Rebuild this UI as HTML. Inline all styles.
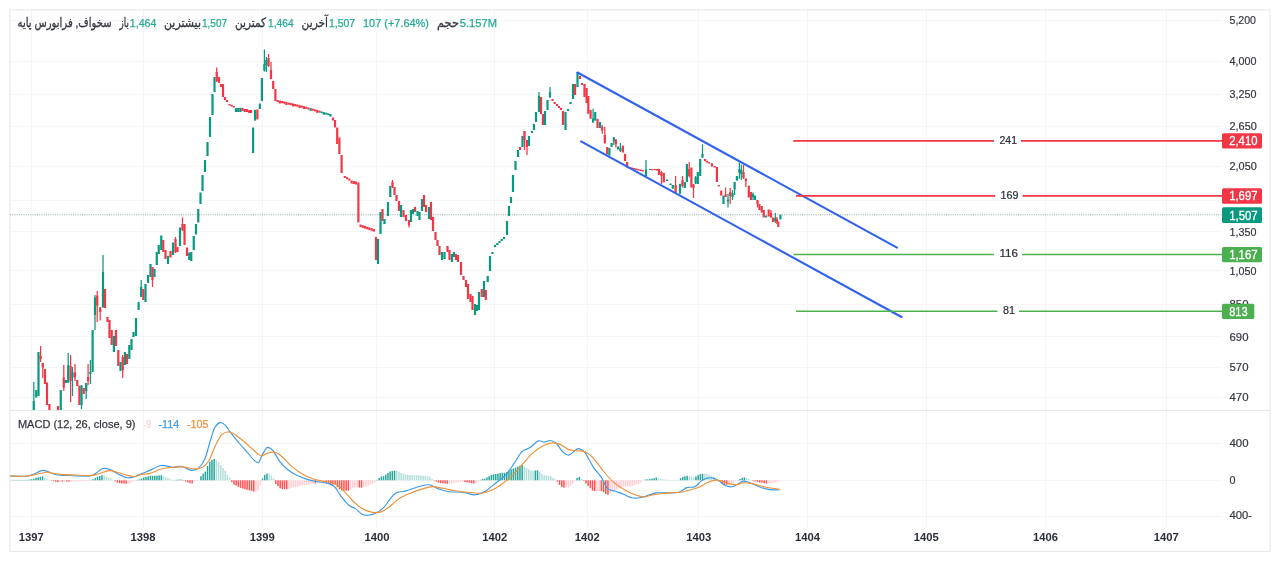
<!DOCTYPE html>
<html lang="fa">
<head>
<meta charset="utf-8">
<title>سخواف - نمودار</title>
<style>
html,body{margin:0;padding:0;background:#fff;}
body{width:1280px;height:561px;overflow:hidden;font-family:"Liberation Sans","DejaVu Sans",sans-serif;}
svg{display:block;}
</style>
</head>
<body>
<svg width="1280" height="561" viewBox="0 0 1280 561">
<rect x="0" y="0" width="1280" height="561" fill="#fff"/>
<line x1="31.5" y1="10" x2="31.5" y2="527" stroke="#f5f5f7" stroke-width="1"/>
<line x1="143.5" y1="10" x2="143.5" y2="527" stroke="#f5f5f7" stroke-width="1"/>
<line x1="262.5" y1="10" x2="262.5" y2="527" stroke="#f5f5f7" stroke-width="1"/>
<line x1="376.5" y1="10" x2="376.5" y2="527" stroke="#f5f5f7" stroke-width="1"/>
<line x1="494.5" y1="10" x2="494.5" y2="527" stroke="#f5f5f7" stroke-width="1"/>
<line x1="587.5" y1="10" x2="587.5" y2="527" stroke="#f5f5f7" stroke-width="1"/>
<line x1="698.5" y1="10" x2="698.5" y2="527" stroke="#f5f5f7" stroke-width="1"/>
<line x1="807.5" y1="10" x2="807.5" y2="527" stroke="#f5f5f7" stroke-width="1"/>
<line x1="926.5" y1="10" x2="926.5" y2="527" stroke="#f5f5f7" stroke-width="1"/>
<line x1="1045.5" y1="10" x2="1045.5" y2="527" stroke="#f5f5f7" stroke-width="1"/>
<line x1="1166.5" y1="10" x2="1166.5" y2="527" stroke="#f5f5f7" stroke-width="1"/>
<line x1="10" y1="20.5" x2="1222" y2="20.5" stroke="#f5f5f7" stroke-width="1"/>
<line x1="10" y1="61.5" x2="1222" y2="61.5" stroke="#f5f5f7" stroke-width="1"/>
<line x1="10" y1="94.5" x2="1222" y2="94.5" stroke="#f5f5f7" stroke-width="1"/>
<line x1="10" y1="126.5" x2="1222" y2="126.5" stroke="#f5f5f7" stroke-width="1"/>
<line x1="10" y1="166.5" x2="1222" y2="166.5" stroke="#f5f5f7" stroke-width="1"/>
<line x1="10" y1="200.5" x2="1222" y2="200.5" stroke="#f5f5f7" stroke-width="1"/>
<line x1="10" y1="231.5" x2="1222" y2="231.5" stroke="#f5f5f7" stroke-width="1"/>
<line x1="10" y1="270.5" x2="1222" y2="270.5" stroke="#f5f5f7" stroke-width="1"/>
<line x1="10" y1="304.5" x2="1222" y2="304.5" stroke="#f5f5f7" stroke-width="1"/>
<line x1="10" y1="336.5" x2="1222" y2="336.5" stroke="#f5f5f7" stroke-width="1"/>
<line x1="10" y1="367.5" x2="1222" y2="367.5" stroke="#f5f5f7" stroke-width="1"/>
<line x1="10" y1="397.5" x2="1222" y2="397.5" stroke="#f5f5f7" stroke-width="1"/>
<line x1="10" y1="443.5" x2="1222" y2="443.5" stroke="#f5f5f7" stroke-width="1"/>
<line x1="10" y1="480.5" x2="1222" y2="480.5" stroke="#f5f5f7" stroke-width="1"/>
<line x1="10" y1="516.5" x2="1222" y2="516.5" stroke="#f5f5f7" stroke-width="1"/>
<line x1="10" y1="410.3" x2="1270" y2="410.3" stroke="#e9e9ec" stroke-width="1.2"/>
<rect x="9.8" y="9.8" width="1260.2" height="541.6" fill="none" stroke="#e9e9eb" stroke-width="1.1"/>
<line x1="10" y1="214.7" x2="1222" y2="214.7" stroke="#8fa9a4" stroke-width="1.1" stroke-dasharray="1 1.25"/>
<clipPath id="cm"><rect x="10" y="10" width="1212" height="400"/></clipPath>
<g clip-path="url(#cm)" shape-rendering="auto">
<line x1="33.8" y1="382.0" x2="33.8" y2="410.0" stroke="#089981" stroke-width="1.25"/>
<rect x="32.65" y="401.0" width="2.2" height="9.0" fill="#089981"/>
<rect x="35.15" y="390.0" width="2.2" height="7.5" fill="#089981"/>
<rect x="37.40" y="352.0" width="2.2" height="44.0" fill="#089981"/>
<line x1="40.6" y1="346.0" x2="40.6" y2="362.0" stroke="#f23645" stroke-width="1.25"/>
<rect x="39.50" y="356.0" width="2.2" height="3.0" fill="#f23645"/>
<line x1="42.8" y1="363.0" x2="42.8" y2="378.0" stroke="#f23645" stroke-width="1.25"/>
<rect x="41.65" y="363.0" width="2.2" height="4.5" fill="#f23645"/>
<rect x="43.90" y="369.0" width="2.2" height="15.0" fill="#f23645"/>
<rect x="45.90" y="382.5" width="2.2" height="22.5" fill="#f23645"/>
<rect x="48.30" y="404.0" width="2.2" height="10.0" fill="#f23645"/>
<rect x="50.50" y="410.0" width="2.2" height="10.0" fill="#f23645"/>
<rect x="52.70" y="412.0" width="2.2" height="8.0" fill="#f23645"/>
<rect x="54.90" y="410.0" width="2.2" height="10.0" fill="#089981"/>
<rect x="56.90" y="406.0" width="2.2" height="6.0" fill="#f23645"/>
<rect x="59.65" y="390.0" width="2.2" height="22.0" fill="#089981"/>
<line x1="63.8" y1="365.0" x2="63.8" y2="391.0" stroke="#f23645" stroke-width="1.25"/>
<rect x="62.65" y="377.5" width="2.2" height="10.0" fill="#f23645"/>
<rect x="64.90" y="380.0" width="2.2" height="3.0" fill="#089981"/>
<line x1="68.2" y1="353.0" x2="68.2" y2="383.0" stroke="#089981" stroke-width="1.25"/>
<rect x="67.15" y="365.0" width="2.2" height="17.5" fill="#089981"/>
<line x1="70.6" y1="355.0" x2="70.6" y2="402.0" stroke="#f23645" stroke-width="1.25"/>
<rect x="69.50" y="366.0" width="2.2" height="15.0" fill="#f23645"/>
<line x1="72.5" y1="367.0" x2="72.5" y2="396.0" stroke="#089981" stroke-width="1.25"/>
<rect x="71.40" y="372.5" width="2.2" height="5.0" fill="#089981"/>
<line x1="75.0" y1="364.0" x2="75.0" y2="381.0" stroke="#f23645" stroke-width="1.25"/>
<rect x="73.90" y="372.5" width="2.2" height="5.0" fill="#f23645"/>
<rect x="76.15" y="380.0" width="2.2" height="6.0" fill="#f23645"/>
<rect x="78.30" y="385.6" width="2.2" height="19.4" fill="#f23645"/>
<line x1="81.5" y1="385.0" x2="81.5" y2="409.0" stroke="#089981" stroke-width="1.25"/>
<rect x="80.40" y="385.6" width="2.2" height="19.4" fill="#089981"/>
<rect x="82.65" y="388.0" width="2.2" height="6.0" fill="#f23645"/>
<line x1="86.2" y1="383.0" x2="86.2" y2="399.0" stroke="#089981" stroke-width="1.25"/>
<rect x="85.15" y="383.0" width="2.2" height="8.0" fill="#089981"/>
<line x1="88.1" y1="364.0" x2="88.1" y2="385.0" stroke="#f23645" stroke-width="1.25"/>
<rect x="87.00" y="377.0" width="2.2" height="4.0" fill="#f23645"/>
<line x1="90.4" y1="360.0" x2="90.4" y2="384.0" stroke="#089981" stroke-width="1.25"/>
<rect x="89.30" y="372.0" width="2.2" height="2.0" fill="#089981"/>
<rect x="91.50" y="330.0" width="2.2" height="42.0" fill="#089981"/>
<line x1="103.0" y1="255.0" x2="103.0" y2="308.0" stroke="#089981" stroke-width="1.25"/>
<rect x="101.90" y="272.0" width="2.2" height="35.0" fill="#089981"/>
<rect x="103.90" y="289.0" width="2.2" height="19.0" fill="#f23645"/>
<rect x="106.40" y="317.0" width="2.2" height="5.0" fill="#f23645"/>
<rect x="108.40" y="320.0" width="2.2" height="18.0" fill="#f23645"/>
<rect x="110.60" y="330.0" width="2.2" height="15.0" fill="#f23645"/>
<rect x="112.80" y="336.0" width="2.2" height="16.0" fill="#089981"/>
<rect x="114.90" y="330.0" width="2.2" height="16.0" fill="#f23645"/>
<rect x="117.20" y="350.0" width="2.2" height="16.0" fill="#f23645"/>
<rect x="119.40" y="362.0" width="2.2" height="9.0" fill="#089981"/>
<line x1="122.7" y1="355.0" x2="122.7" y2="378.0" stroke="#f23645" stroke-width="1.25"/>
<rect x="121.60" y="357.0" width="2.2" height="13.0" fill="#f23645"/>
<rect x="123.90" y="352.0" width="2.2" height="13.0" fill="#089981"/>
<rect x="125.90" y="354.0" width="2.2" height="10.0" fill="#f23645"/>
<rect x="128.20" y="345.0" width="2.2" height="14.0" fill="#089981"/>
<rect x="130.40" y="339.0" width="2.2" height="11.0" fill="#089981"/>
<rect x="132.40" y="332.0" width="2.2" height="5.0" fill="#089981"/>
<rect x="134.90" y="318.0" width="2.2" height="18.0" fill="#089981"/>
<rect x="137.50" y="302.0" width="2.2" height="8.0" fill="#089981"/>
<line x1="141.2" y1="280.0" x2="141.2" y2="297.0" stroke="#089981" stroke-width="1.25"/>
<rect x="140.10" y="287.0" width="2.2" height="10.0" fill="#089981"/>
<rect x="142.20" y="289.0" width="2.2" height="11.0" fill="#f23645"/>
<rect x="144.40" y="284.0" width="2.2" height="18.0" fill="#089981"/>
<rect x="146.90" y="275.0" width="2.2" height="8.0" fill="#089981"/>
<rect x="149.40" y="264.0" width="2.2" height="13.0" fill="#089981"/>
<line x1="152.5" y1="267.0" x2="152.5" y2="287.0" stroke="#f23645" stroke-width="1.25"/>
<rect x="151.40" y="267.0" width="2.2" height="13.0" fill="#f23645"/>
<rect x="153.40" y="269.0" width="2.2" height="8.0" fill="#089981"/>
<rect x="155.65" y="252.0" width="2.2" height="13.0" fill="#089981"/>
<rect x="157.65" y="245.0" width="2.2" height="9.0" fill="#089981"/>
<rect x="160.15" y="235.5" width="2.2" height="14.5" fill="#089981"/>
<rect x="162.15" y="240.0" width="2.2" height="12.0" fill="#f23645"/>
<rect x="164.40" y="250.0" width="2.2" height="9.0" fill="#f23645"/>
<rect x="166.90" y="256.0" width="2.2" height="8.0" fill="#089981"/>
<rect x="169.40" y="251.0" width="2.2" height="6.5" fill="#f23645"/>
<rect x="171.90" y="242.5" width="2.2" height="12.5" fill="#089981"/>
<line x1="175.5" y1="237.0" x2="175.5" y2="253.0" stroke="#f23645" stroke-width="1.25"/>
<rect x="174.40" y="239.0" width="2.2" height="13.5" fill="#f23645"/>
<rect x="176.40" y="247.0" width="2.2" height="5.0" fill="#f23645"/>
<rect x="178.90" y="227.5" width="2.2" height="18.5" fill="#089981"/>
<line x1="182.5" y1="217.5" x2="182.5" y2="231.0" stroke="#f23645" stroke-width="1.25"/>
<rect x="181.40" y="224.0" width="2.2" height="6.0" fill="#f23645"/>
<rect x="183.40" y="224.0" width="2.2" height="21.0" fill="#f23645"/>
<rect x="185.90" y="247.5" width="2.2" height="8.5" fill="#f23645"/>
<rect x="188.15" y="252.5" width="2.2" height="7.5" fill="#089981"/>
<rect x="190.15" y="252.0" width="2.2" height="9.0" fill="#089981"/>
<rect x="192.65" y="236.0" width="2.2" height="14.0" fill="#089981"/>
<rect x="194.90" y="224.0" width="2.2" height="10.5" fill="#089981"/>
<rect x="197.15" y="209.0" width="2.2" height="13.5" fill="#089981"/>
<rect x="199.40" y="192.5" width="2.2" height="11.5" fill="#089981"/>
<rect x="201.40" y="175.0" width="2.2" height="16.0" fill="#089981"/>
<rect x="203.90" y="160.0" width="2.2" height="12.0" fill="#089981"/>
<rect x="206.40" y="142.0" width="2.2" height="14.0" fill="#089981"/>
<rect x="208.90" y="117.0" width="2.2" height="20.0" fill="#089981"/>
<rect x="211.40" y="94.0" width="2.2" height="21.0" fill="#089981"/>
<rect x="213.40" y="77.0" width="2.2" height="15.0" fill="#089981"/>
<line x1="216.7" y1="67.5" x2="216.7" y2="82.0" stroke="#f23645" stroke-width="1.25"/>
<rect x="215.60" y="72.0" width="2.2" height="9.0" fill="#f23645"/>
<rect x="217.90" y="77.0" width="2.2" height="6.0" fill="#f23645"/>
<rect x="219.90" y="84.0" width="2.2" height="3.0" fill="#f23645"/>
<rect x="221.90" y="84.0" width="2.2" height="13.0" fill="#f23645"/>
<rect x="223.90" y="97.0" width="2.2" height="3.0" fill="#f23645"/>
<rect x="225.90" y="100.0" width="2.2" height="2.0" fill="#f23645"/>
<rect x="228.40" y="104.0" width="2.2" height="1.5" fill="#f23645"/>
<rect x="230.60" y="105.0" width="2.2" height="1.5" fill="#f23645"/>
<rect x="232.70" y="106.0" width="2.2" height="1.5" fill="#f23645"/>
<rect x="234.90" y="108.0" width="2.2" height="4.0" fill="#089981"/>
<rect x="237.10" y="108.0" width="2.2" height="4.0" fill="#089981"/>
<rect x="239.30" y="108.0" width="2.2" height="4.0" fill="#089981"/>
<rect x="241.50" y="108.0" width="2.2" height="3.0" fill="#f23645"/>
<rect x="243.70" y="109.0" width="2.2" height="3.0" fill="#f23645"/>
<rect x="245.90" y="109.0" width="2.2" height="3.0" fill="#f23645"/>
<rect x="248.10" y="110.0" width="2.2" height="3.0" fill="#f23645"/>
<rect x="249.90" y="110.0" width="2.2" height="3.0" fill="#f23645"/>
<rect x="374.90" y="237.0" width="2.2" height="23.0" fill="#f23645"/>
<rect x="376.90" y="239.0" width="2.2" height="25.0" fill="#089981"/>
<rect x="379.40" y="212.0" width="2.2" height="22.0" fill="#089981"/>
<rect x="381.40" y="209.0" width="2.2" height="12.0" fill="#f23645"/>
<rect x="383.40" y="219.0" width="2.2" height="5.0" fill="#089981"/>
<rect x="386.90" y="202.0" width="2.2" height="14.0" fill="#089981"/>
<rect x="389.20" y="186.0" width="2.2" height="11.0" fill="#089981"/>
<line x1="392.5" y1="180.0" x2="392.5" y2="188.0" stroke="#f23645" stroke-width="1.25"/>
<rect x="391.40" y="182.0" width="2.2" height="5.0" fill="#f23645"/>
<rect x="393.40" y="187.0" width="2.2" height="8.0" fill="#f23645"/>
<rect x="395.40" y="195.0" width="2.2" height="6.0" fill="#f23645"/>
<rect x="397.90" y="201.0" width="2.2" height="10.0" fill="#f23645"/>
<rect x="399.90" y="205.0" width="2.2" height="12.0" fill="#089981"/>
<rect x="402.40" y="210.0" width="2.2" height="7.0" fill="#f23645"/>
<rect x="404.90" y="215.0" width="2.2" height="6.0" fill="#f23645"/>
<line x1="409.0" y1="220.0" x2="409.0" y2="227.5" stroke="#f23645" stroke-width="1.25"/>
<rect x="407.90" y="220.0" width="2.2" height="5.0" fill="#f23645"/>
<rect x="409.90" y="210.0" width="2.2" height="12.0" fill="#089981"/>
<rect x="411.90" y="209.0" width="2.2" height="5.0" fill="#089981"/>
<rect x="413.90" y="207.0" width="2.2" height="5.0" fill="#f23645"/>
<rect x="416.40" y="211.0" width="2.2" height="5.0" fill="#089981"/>
<rect x="418.40" y="212.0" width="2.2" height="8.0" fill="#089981"/>
<rect x="420.90" y="199.0" width="2.2" height="12.0" fill="#089981"/>
<rect x="422.90" y="195.0" width="2.2" height="12.0" fill="#f23645"/>
<rect x="424.90" y="205.0" width="2.2" height="7.0" fill="#f23645"/>
<rect x="427.90" y="207.0" width="2.2" height="12.0" fill="#089981"/>
<rect x="429.90" y="202.0" width="2.2" height="18.0" fill="#f23645"/>
<rect x="431.90" y="217.0" width="2.2" height="14.0" fill="#f23645"/>
<rect x="434.40" y="232.0" width="2.2" height="8.0" fill="#f23645"/>
<rect x="436.40" y="240.0" width="2.2" height="6.0" fill="#f23645"/>
<rect x="438.40" y="246.0" width="2.2" height="9.0" fill="#f23645"/>
<rect x="440.90" y="252.0" width="2.2" height="8.0" fill="#089981"/>
<rect x="443.40" y="252.0" width="2.2" height="7.0" fill="#089981"/>
<rect x="446.40" y="246.0" width="2.2" height="6.0" fill="#f23645"/>
<rect x="448.40" y="250.0" width="2.2" height="10.0" fill="#f23645"/>
<rect x="450.90" y="254.0" width="2.2" height="8.0" fill="#089981"/>
<rect x="452.90" y="252.0" width="2.2" height="5.0" fill="#089981"/>
<rect x="454.90" y="254.0" width="2.2" height="6.0" fill="#f23645"/>
<rect x="456.90" y="255.0" width="2.2" height="7.0" fill="#f23645"/>
<rect x="459.90" y="262.0" width="2.2" height="13.0" fill="#f23645"/>
<rect x="462.40" y="276.0" width="2.2" height="4.0" fill="#f23645"/>
<rect x="464.90" y="280.0" width="2.2" height="7.0" fill="#f23645"/>
<rect x="466.90" y="284.0" width="2.2" height="15.0" fill="#f23645"/>
<rect x="469.40" y="294.0" width="2.2" height="8.0" fill="#f23645"/>
<rect x="471.40" y="296.0" width="2.2" height="14.0" fill="#f23645"/>
<rect x="473.90" y="304.0" width="2.2" height="11.0" fill="#089981"/>
<rect x="475.90" y="305.0" width="2.2" height="6.0" fill="#089981"/>
<rect x="477.90" y="292.0" width="2.2" height="18.0" fill="#089981"/>
<rect x="480.60" y="289.0" width="2.2" height="8.0" fill="#f23645"/>
<rect x="482.90" y="281.0" width="2.2" height="16.0" fill="#089981"/>
<rect x="484.70" y="290.0" width="2.2" height="10.0" fill="#f23645"/>
<rect x="486.60" y="276.0" width="2.2" height="6.0" fill="#089981"/>
<rect x="488.90" y="256.0" width="2.2" height="15.0" fill="#089981"/>
<rect x="491.40" y="252.0" width="2.2" height="2.0" fill="#089981"/>
<rect x="493.90" y="245.0" width="2.2" height="2.0" fill="#089981"/>
<rect x="496.20" y="243.0" width="2.2" height="2.0" fill="#089981"/>
<rect x="498.40" y="241.0" width="2.2" height="2.0" fill="#089981"/>
<rect x="500.60" y="239.0" width="2.2" height="2.0" fill="#089981"/>
<rect x="502.90" y="237.0" width="2.2" height="2.0" fill="#089981"/>
<rect x="505.90" y="221.0" width="2.2" height="14.0" fill="#089981"/>
<rect x="507.90" y="206.0" width="2.2" height="10.0" fill="#089981"/>
<rect x="509.90" y="197.0" width="2.2" height="6.0" fill="#089981"/>
<rect x="511.90" y="175.0" width="2.2" height="17.0" fill="#089981"/>
<rect x="514.40" y="161.0" width="2.2" height="9.0" fill="#089981"/>
<rect x="516.90" y="150.0" width="2.2" height="7.0" fill="#089981"/>
<rect x="518.90" y="147.0" width="2.2" height="3.0" fill="#f23645"/>
<rect x="521.40" y="136.0" width="2.2" height="11.0" fill="#089981"/>
<line x1="524.5" y1="131.0" x2="524.5" y2="150.0" stroke="#f23645" stroke-width="1.25"/>
<rect x="523.40" y="131.0" width="2.2" height="9.0" fill="#f23645"/>
<line x1="527.0" y1="140.0" x2="527.0" y2="155.0" stroke="#f23645" stroke-width="1.25"/>
<rect x="525.90" y="140.0" width="2.2" height="7.0" fill="#f23645"/>
<rect x="527.90" y="136.0" width="2.2" height="10.0" fill="#089981"/>
<rect x="530.90" y="131.0" width="2.2" height="2.0" fill="#089981"/>
<rect x="532.90" y="124.0" width="2.2" height="6.0" fill="#089981"/>
<rect x="534.90" y="112.0" width="2.2" height="10.0" fill="#089981"/>
<line x1="539.0" y1="92.0" x2="539.0" y2="112.0" stroke="#089981" stroke-width="1.25"/>
<rect x="537.90" y="96.0" width="2.2" height="16.0" fill="#089981"/>
<rect x="539.90" y="97.0" width="2.2" height="17.0" fill="#f23645"/>
<rect x="541.90" y="114.0" width="2.2" height="11.0" fill="#f23645"/>
<rect x="543.90" y="111.0" width="2.2" height="14.0" fill="#089981"/>
<rect x="546.40" y="100.0" width="2.2" height="10.0" fill="#089981"/>
<line x1="550.0" y1="87.0" x2="550.0" y2="98.0" stroke="#089981" stroke-width="1.25"/>
<rect x="548.90" y="92.0" width="2.2" height="5.0" fill="#089981"/>
<rect x="551.40" y="99.0" width="2.2" height="2.0" fill="#f23645"/>
<rect x="553.60" y="102.0" width="2.2" height="2.0" fill="#f23645"/>
<rect x="555.90" y="104.0" width="2.2" height="2.0" fill="#f23645"/>
<rect x="557.90" y="106.0" width="2.2" height="2.0" fill="#f23645"/>
<rect x="559.90" y="108.0" width="2.2" height="2.0" fill="#f23645"/>
<rect x="561.90" y="111.0" width="2.2" height="14.0" fill="#f23645"/>
<rect x="564.40" y="112.0" width="2.2" height="18.0" fill="#089981"/>
<rect x="566.90" y="109.0" width="2.2" height="2.0" fill="#089981"/>
<rect x="569.40" y="102.0" width="2.2" height="2.0" fill="#089981"/>
<rect x="571.90" y="84.0" width="2.2" height="15.0" fill="#089981"/>
<rect x="573.90" y="84.0" width="2.2" height="11.0" fill="#f23645"/>
<rect x="576.40" y="72.0" width="2.2" height="15.0" fill="#089981"/>
<rect x="578.90" y="76.0" width="2.2" height="3.0" fill="#f23645"/>
<rect x="580.90" y="83.0" width="2.2" height="2.0" fill="#f23645"/>
<rect x="583.40" y="84.0" width="2.2" height="13.0" fill="#f23645"/>
<rect x="628.40" y="167.0" width="2.2" height="1.5" fill="#f23645"/>
<rect x="630.60" y="167.5" width="2.2" height="1.5" fill="#f23645"/>
<rect x="632.90" y="168.0" width="2.2" height="1.5" fill="#f23645"/>
<rect x="635.10" y="168.5" width="2.2" height="1.5" fill="#f23645"/>
<rect x="637.30" y="169.0" width="2.2" height="1.5" fill="#f23645"/>
<rect x="639.50" y="169.5" width="2.2" height="1.5" fill="#f23645"/>
<rect x="641.70" y="170.0" width="2.2" height="1.5" fill="#f23645"/>
<line x1="264.4" y1="49.4" x2="264.4" y2="71.5" stroke="#089981" stroke-width="1.25"/>
<rect x="263.30" y="64.0" width="2.2" height="6.6" fill="#089981"/>
<line x1="266.4" y1="57.0" x2="266.4" y2="72.0" stroke="#089981" stroke-width="1.25"/>
<rect x="265.30" y="60.0" width="2.2" height="5.0" fill="#089981"/>
<line x1="268.5" y1="54.0" x2="268.5" y2="67.0" stroke="#f23645" stroke-width="1.25"/>
<rect x="267.40" y="58.0" width="2.2" height="8.0" fill="#f23645"/>
<line x1="271.0" y1="62.0" x2="271.0" y2="79.0" stroke="#f23645" stroke-width="1.25"/>
<rect x="269.90" y="70.0" width="2.2" height="9.0" fill="#f23645"/>
<rect x="272.10" y="81.0" width="2.2" height="8.0" fill="#f23645"/>
<rect x="274.30" y="89.0" width="2.2" height="12.0" fill="#f23645"/>
<rect x="343.70" y="176.0" width="2.2" height="2.0" fill="#f23645"/>
<rect x="346.00" y="177.2" width="2.2" height="2.0" fill="#f23645"/>
<rect x="348.30" y="178.5" width="2.2" height="2.0" fill="#f23645"/>
<rect x="350.50" y="180.5" width="2.2" height="3.0" fill="#f23645"/>
<rect x="352.70" y="181.0" width="2.2" height="3.0" fill="#f23645"/>
<rect x="354.90" y="181.5" width="2.2" height="3.0" fill="#f23645"/>
<rect x="357.30" y="182.5" width="2.2" height="40.0" fill="#f23645"/>
<rect x="359.50" y="224.5" width="2.2" height="2.6" fill="#f23645"/>
<rect x="361.70" y="225.2" width="2.2" height="2.6" fill="#f23645"/>
<rect x="363.90" y="226.0" width="2.2" height="2.6" fill="#f23645"/>
<rect x="366.10" y="226.8" width="2.2" height="2.5" fill="#f23645"/>
<rect x="368.30" y="227.5" width="2.2" height="2.6" fill="#f23645"/>
<rect x="370.50" y="228.2" width="2.2" height="2.6" fill="#f23645"/>
<rect x="372.70" y="229.0" width="2.2" height="2.6" fill="#f23645"/>
<line x1="646.0" y1="160.0" x2="646.0" y2="176.5" stroke="#089981" stroke-width="1.25"/>
<rect x="644.90" y="169.5" width="2.2" height="6.5" fill="#089981"/>
<rect x="648.90" y="169.0" width="2.2" height="1.0" fill="#089981"/>
<rect x="651.20" y="169.0" width="2.2" height="1.2" fill="#f23645"/>
<rect x="653.50" y="169.0" width="2.2" height="1.2" fill="#f23645"/>
<rect x="655.90" y="169.0" width="2.2" height="1.5" fill="#f23645"/>
<rect x="657.90" y="168.8" width="2.2" height="6.2" fill="#f23645"/>
<line x1="661.5" y1="171.0" x2="661.5" y2="184.0" stroke="#f23645" stroke-width="1.25"/>
<rect x="660.40" y="172.0" width="2.2" height="4.0" fill="#f23645"/>
<rect x="662.70" y="173.0" width="2.2" height="9.5" fill="#f23645"/>
<rect x="665.90" y="179.5" width="2.2" height="1.5" fill="#089981"/>
<rect x="669.50" y="183.5" width="2.2" height="1.5" fill="#089981"/>
<rect x="671.70" y="185.0" width="2.2" height="3.8" fill="#089981"/>
<line x1="675.6" y1="176.0" x2="675.6" y2="193.0" stroke="#f23645" stroke-width="1.25"/>
<rect x="674.50" y="185.0" width="2.2" height="7.5" fill="#f23645"/>
<rect x="678.90" y="183.8" width="2.2" height="10.0" fill="#089981"/>
<line x1="682.5" y1="176.0" x2="682.5" y2="187.5" stroke="#f23645" stroke-width="1.25"/>
<rect x="681.40" y="180.0" width="2.2" height="6.0" fill="#f23645"/>
<rect x="683.70" y="182.0" width="2.2" height="6.0" fill="#089981"/>
<rect x="685.80" y="164.0" width="2.2" height="18.0" fill="#089981"/>
<line x1="689.2" y1="162.0" x2="689.2" y2="177.5" stroke="#f23645" stroke-width="1.25"/>
<rect x="688.10" y="169.0" width="2.2" height="7.0" fill="#f23645"/>
<rect x="690.30" y="167.5" width="2.2" height="20.0" fill="#f23645"/>
<line x1="693.5" y1="184.0" x2="693.5" y2="198.0" stroke="#f23645" stroke-width="1.25"/>
<rect x="692.40" y="184.5" width="2.2" height="3.5" fill="#f23645"/>
<line x1="695.6" y1="176.0" x2="695.6" y2="184.0" stroke="#089981" stroke-width="1.25"/>
<rect x="694.50" y="177.0" width="2.2" height="6.5" fill="#089981"/>
<rect x="696.70" y="172.0" width="2.2" height="12.0" fill="#089981"/>
<rect x="699.10" y="159.0" width="2.2" height="17.0" fill="#089981"/>
<line x1="702.5" y1="144.4" x2="702.5" y2="157.5" stroke="#089981" stroke-width="1.25"/>
<rect x="701.40" y="154.0" width="2.2" height="3.5" fill="#089981"/>
<rect x="703.90" y="159.0" width="2.2" height="2.2" fill="#f23645"/>
<rect x="705.80" y="160.8" width="2.2" height="1.7" fill="#f23645"/>
<rect x="707.70" y="162.0" width="2.2" height="1.6" fill="#f23645"/>
<line x1="711.9" y1="163.0" x2="711.9" y2="167.0" stroke="#f23645" stroke-width="1.25"/>
<rect x="710.80" y="163.5" width="2.2" height="2.5" fill="#f23645"/>
<rect x="713.60" y="166.0" width="2.2" height="1.6" fill="#f23645"/>
<rect x="715.80" y="167.0" width="2.2" height="15.0" fill="#f23645"/>
<rect x="717.70" y="185.0" width="2.2" height="1.4" fill="#f23645"/>
<rect x="720.10" y="190.6" width="2.2" height="5.0" fill="#f23645"/>
<rect x="722.40" y="195.6" width="2.2" height="8.4" fill="#089981"/>
<line x1="725.6" y1="187.5" x2="725.6" y2="197.0" stroke="#f23645" stroke-width="1.25"/>
<rect x="724.50" y="194.5" width="2.2" height="2.5" fill="#f23645"/>
<line x1="728.0" y1="193.8" x2="728.0" y2="207.5" stroke="#089981" stroke-width="1.25"/>
<rect x="726.90" y="199.5" width="2.2" height="2.0" fill="#089981"/>
<line x1="730.2" y1="188.0" x2="730.2" y2="204.0" stroke="#f23645" stroke-width="1.25"/>
<rect x="729.10" y="192.0" width="2.2" height="4.0" fill="#f23645"/>
<line x1="732.5" y1="190.0" x2="732.5" y2="200.0" stroke="#089981" stroke-width="1.25"/>
<rect x="731.40" y="193.0" width="2.2" height="4.0" fill="#089981"/>
<line x1="734.6" y1="182.0" x2="734.6" y2="195.0" stroke="#089981" stroke-width="1.25"/>
<rect x="733.50" y="182.0" width="2.2" height="7.4" fill="#089981"/>
<rect x="735.80" y="176.0" width="2.2" height="4.6" fill="#089981"/>
<line x1="739.4" y1="162.5" x2="739.4" y2="178.8" stroke="#089981" stroke-width="1.25"/>
<rect x="738.30" y="169.0" width="2.2" height="3.5" fill="#089981"/>
<line x1="741.3" y1="164.5" x2="741.3" y2="180.0" stroke="#089981" stroke-width="1.25"/>
<rect x="740.20" y="170.0" width="2.2" height="4.0" fill="#089981"/>
<line x1="743.5" y1="165.0" x2="743.5" y2="179.0" stroke="#f23645" stroke-width="1.25"/>
<rect x="742.40" y="172.0" width="2.2" height="6.0" fill="#f23645"/>
<line x1="745.9" y1="178.0" x2="745.9" y2="187.0" stroke="#f23645" stroke-width="1.25"/>
<rect x="744.80" y="179.0" width="2.2" height="2.0" fill="#f23645"/>
<rect x="747.70" y="185.6" width="2.2" height="11.9" fill="#f23645"/>
<rect x="749.90" y="192.0" width="2.2" height="8.0" fill="#f23645"/>
<line x1="753.0" y1="192.5" x2="753.0" y2="200.0" stroke="#089981" stroke-width="1.25"/>
<rect x="751.90" y="194.0" width="2.2" height="3.0" fill="#089981"/>
<rect x="753.90" y="195.6" width="2.2" height="4.4" fill="#089981"/>
<line x1="757.5" y1="200.0" x2="757.5" y2="207.5" stroke="#f23645" stroke-width="1.25"/>
<rect x="756.40" y="200.0" width="2.2" height="4.0" fill="#f23645"/>
<rect x="758.30" y="204.0" width="2.2" height="6.0" fill="#f23645"/>
<rect x="760.60" y="206.0" width="2.2" height="6.5" fill="#f23645"/>
<rect x="762.60" y="210.0" width="2.2" height="7.5" fill="#f23645"/>
<rect x="764.90" y="215.5" width="2.2" height="2.0" fill="#089981"/>
<rect x="767.60" y="209.5" width="2.2" height="7.0" fill="#f23645"/>
<line x1="771.0" y1="210.0" x2="771.0" y2="217.5" stroke="#f23645" stroke-width="1.25"/>
<rect x="769.90" y="213.0" width="2.2" height="4.5" fill="#f23645"/>
<rect x="771.90" y="217.5" width="2.2" height="4.5" fill="#f23645"/>
<line x1="775.3" y1="213.0" x2="775.3" y2="223.0" stroke="#089981" stroke-width="1.25"/>
<rect x="774.20" y="218.0" width="2.2" height="3.0" fill="#089981"/>
<line x1="776.9" y1="217.0" x2="776.9" y2="224.0" stroke="#f23645" stroke-width="1.25"/>
<rect x="775.80" y="219.0" width="2.2" height="3.0" fill="#f23645"/>
<rect x="777.20" y="221.5" width="2.2" height="5.5" fill="#f23645"/>
<rect x="779.30" y="214.7" width="2.2" height="4.8" fill="#089981"/>
<rect x="585.50" y="88.0" width="2.2" height="15.0" fill="#f23645"/>
<rect x="587.20" y="96.0" width="2.2" height="17.8" fill="#f23645"/>
<rect x="589.50" y="110.0" width="2.2" height="8.8" fill="#f23645"/>
<line x1="593.1" y1="108.8" x2="593.1" y2="122.5" stroke="#089981" stroke-width="1.25"/>
<rect x="592.00" y="118.5" width="2.2" height="4.0" fill="#089981"/>
<rect x="594.10" y="112.0" width="2.2" height="8.6" fill="#089981"/>
<rect x="596.40" y="118.8" width="2.2" height="9.2" fill="#f23645"/>
<rect x="598.90" y="122.0" width="2.2" height="6.0" fill="#089981"/>
<line x1="602.2" y1="125.0" x2="602.2" y2="133.8" stroke="#f23645" stroke-width="1.25"/>
<rect x="601.10" y="127.0" width="2.2" height="3.5" fill="#f23645"/>
<line x1="604.8" y1="127.0" x2="604.8" y2="143.8" stroke="#f23645" stroke-width="1.25"/>
<rect x="603.70" y="135.0" width="2.2" height="8.0" fill="#f23645"/>
<rect x="606.10" y="147.0" width="2.2" height="7.4" fill="#f23645"/>
<rect x="608.30" y="148.0" width="2.2" height="7.6" fill="#089981"/>
<rect x="610.50" y="143.0" width="2.2" height="4.0" fill="#089981"/>
<line x1="613.8" y1="137.0" x2="613.8" y2="145.0" stroke="#089981" stroke-width="1.25"/>
<rect x="612.70" y="137.5" width="2.2" height="4.0" fill="#089981"/>
<line x1="615.9" y1="139.4" x2="615.9" y2="147.5" stroke="#f23645" stroke-width="1.25"/>
<rect x="614.80" y="139.4" width="2.2" height="5.0" fill="#f23645"/>
<rect x="617.00" y="146.5" width="2.2" height="3.0" fill="#089981"/>
<line x1="620.4" y1="143.0" x2="620.4" y2="152.0" stroke="#089981" stroke-width="1.25"/>
<rect x="619.30" y="148.0" width="2.2" height="3.0" fill="#089981"/>
<rect x="621.80" y="145.6" width="2.2" height="6.9" fill="#f23645"/>
<rect x="623.90" y="153.8" width="2.2" height="7.2" fill="#f23645"/>
<rect x="626.00" y="162.0" width="2.2" height="5.5" fill="#f23645"/>
<rect x="252.00" y="127.5" width="2.2" height="25.5" fill="#089981"/>
<rect x="254.00" y="110.0" width="2.2" height="10.6" fill="#089981"/>
<rect x="256.30" y="109.4" width="2.2" height="10.0" fill="#f23645"/>
<rect x="258.70" y="103.5" width="2.2" height="5.5" fill="#089981"/>
<rect x="260.80" y="78.0" width="2.2" height="23.0" fill="#089981"/>
<rect x="331.90" y="117.5" width="2.2" height="3.0" fill="#f23645"/>
<rect x="333.90" y="120.0" width="2.2" height="7.5" fill="#f23645"/>
<rect x="336.10" y="127.5" width="2.2" height="16.5" fill="#f23645"/>
<rect x="338.30" y="137.5" width="2.2" height="16.5" fill="#f23645"/>
<rect x="276.50" y="100.0" width="2.2" height="2.2" fill="#f23645"/>
<rect x="278.70" y="100.5" width="2.2" height="3.0" fill="#f23645"/>
<rect x="280.90" y="101.0" width="2.2" height="2.2" fill="#f23645"/>
<rect x="283.10" y="101.5" width="2.2" height="2.2" fill="#f23645"/>
<rect x="285.30" y="102.0" width="2.2" height="3.0" fill="#f23645"/>
<rect x="287.50" y="102.5" width="2.2" height="2.2" fill="#f23645"/>
<rect x="289.70" y="103.0" width="2.2" height="2.2" fill="#f23645"/>
<rect x="291.90" y="103.5" width="2.2" height="3.0" fill="#f23645"/>
<rect x="294.10" y="104.0" width="2.2" height="2.2" fill="#f23645"/>
<rect x="296.30" y="104.5" width="2.2" height="2.2" fill="#f23645"/>
<rect x="298.50" y="105.0" width="2.2" height="3.0" fill="#f23645"/>
<rect x="300.70" y="105.6" width="2.2" height="2.0" fill="#f23645"/>
<rect x="302.90" y="106.2" width="2.2" height="2.8" fill="#f23645"/>
<rect x="305.10" y="106.8" width="2.2" height="2.0" fill="#f23645"/>
<rect x="307.30" y="107.5" width="2.2" height="2.0" fill="#f23645"/>
<rect x="309.50" y="108.1" width="2.2" height="2.8" fill="#089981"/>
<rect x="311.70" y="108.7" width="2.2" height="2.0" fill="#f23645"/>
<rect x="313.90" y="109.3" width="2.2" height="2.0" fill="#f23645"/>
<rect x="316.10" y="110.0" width="2.2" height="2.8" fill="#f23645"/>
<rect x="318.30" y="110.6" width="2.2" height="2.0" fill="#f23645"/>
<rect x="320.50" y="111.4" width="2.2" height="1.8" fill="#089981"/>
<rect x="322.70" y="112.1" width="2.2" height="2.6" fill="#089981"/>
<rect x="324.90" y="112.7" width="2.2" height="1.8" fill="#089981"/>
<rect x="327.10" y="113.3" width="2.2" height="1.8" fill="#089981"/>
<rect x="329.30" y="114.0" width="2.2" height="2.6" fill="#089981"/>
<rect x="340.50" y="155.0" width="2.2" height="18.0" fill="#f23645"/>
<line x1="95.0" y1="295.0" x2="95.0" y2="330.0" stroke="#089981" stroke-width="1.25"/>
<rect x="93.90" y="297.5" width="2.2" height="17.5" fill="#089981"/>
<line x1="97.2" y1="291.0" x2="97.2" y2="322.0" stroke="#f23645" stroke-width="1.25"/>
<rect x="96.15" y="295.6" width="2.2" height="10.0" fill="#f23645"/>
<line x1="100.2" y1="307.0" x2="100.2" y2="320.6" stroke="#f23645" stroke-width="1.25"/>
<rect x="99.15" y="307.5" width="2.2" height="4.5" fill="#f23645"/>
</g>
<line x1="577.5" y1="72.5" x2="897" y2="247.6" stroke="#2f62ee" stroke-width="2.1" stroke-linecap="round"/>
<line x1="581" y1="141.4" x2="901.5" y2="317" stroke="#2f62ee" stroke-width="2.1" stroke-linecap="round"/>
<text x="1229.5" y="24.1" font-family="'Liberation Sans', 'DejaVu Sans', sans-serif" font-size="11.5" fill="#34373f" stroke="#34373f" stroke-width="0.2" textLength="26.5" lengthAdjust="spacingAndGlyphs">5,200</text>
<text x="1229.5" y="65.1" font-family="'Liberation Sans', 'DejaVu Sans', sans-serif" font-size="11.5" fill="#34373f" stroke="#34373f" stroke-width="0.2" textLength="26.9" lengthAdjust="spacingAndGlyphs">4,000</text>
<text x="1229.5" y="98.1" font-family="'Liberation Sans', 'DejaVu Sans', sans-serif" font-size="11.5" fill="#34373f" stroke="#34373f" stroke-width="0.2" textLength="26.9" lengthAdjust="spacingAndGlyphs">3,250</text>
<text x="1229.5" y="130.1" font-family="'Liberation Sans', 'DejaVu Sans', sans-serif" font-size="11.5" fill="#34373f" stroke="#34373f" stroke-width="0.2" textLength="27.3" lengthAdjust="spacingAndGlyphs">2,650</text>
<text x="1229.5" y="170.1" font-family="'Liberation Sans', 'DejaVu Sans', sans-serif" font-size="11.5" fill="#34373f" stroke="#34373f" stroke-width="0.2" textLength="27.3" lengthAdjust="spacingAndGlyphs">2,050</text>
<text x="1229.5" y="235.6" font-family="'Liberation Sans', 'DejaVu Sans', sans-serif" font-size="11.5" fill="#34373f" stroke="#34373f" stroke-width="0.2" textLength="26.9" lengthAdjust="spacingAndGlyphs">1,350</text>
<text x="1229.5" y="274.6" font-family="'Liberation Sans', 'DejaVu Sans', sans-serif" font-size="11.5" fill="#34373f" stroke="#34373f" stroke-width="0.2" textLength="26.9" lengthAdjust="spacingAndGlyphs">1,050</text>
<text x="1229.5" y="308.1" font-family="'Liberation Sans', 'DejaVu Sans', sans-serif" font-size="11.5" fill="#34373f" stroke="#34373f" stroke-width="0.2" textLength="19" lengthAdjust="spacingAndGlyphs">850</text>
<text x="1229.5" y="340.90000000000003" font-family="'Liberation Sans', 'DejaVu Sans', sans-serif" font-size="11.5" fill="#34373f" stroke="#34373f" stroke-width="0.2" textLength="19" lengthAdjust="spacingAndGlyphs">690</text>
<text x="1229.5" y="371.1" font-family="'Liberation Sans', 'DejaVu Sans', sans-serif" font-size="11.5" fill="#34373f" stroke="#34373f" stroke-width="0.2" textLength="19" lengthAdjust="spacingAndGlyphs">570</text>
<text x="1229.5" y="401.1" font-family="'Liberation Sans', 'DejaVu Sans', sans-serif" font-size="11.5" fill="#34373f" stroke="#34373f" stroke-width="0.2" textLength="19" lengthAdjust="spacingAndGlyphs">470</text>
<text x="1229.5" y="446.70000000000005" font-family="'Liberation Sans', 'DejaVu Sans', sans-serif" font-size="11.5" fill="#34373f" stroke="#34373f" stroke-width="0.2" textLength="19" lengthAdjust="spacingAndGlyphs">400</text>
<text x="1229.5" y="483.6" font-family="'Liberation Sans', 'DejaVu Sans', sans-serif" font-size="11.5" fill="#34373f" stroke="#34373f" stroke-width="0.2" textLength="6" lengthAdjust="spacingAndGlyphs">0</text>
<text x="1229.5" y="518.9" font-family="'Liberation Sans', 'DejaVu Sans', sans-serif" font-size="11.5" fill="#34373f" stroke="#34373f" stroke-width="0.2" textLength="22.5" lengthAdjust="spacingAndGlyphs">400-</text>
<line x1="793.3" y1="140.8" x2="1222" y2="140.8" stroke="#f23645" stroke-width="1.7"/>
<rect x="994.0" y="136.8" width="27.0" height="8" fill="#fff"/>
<text x="1008.25" y="143.75" font-family="'Liberation Sans', 'DejaVu Sans', sans-serif" font-size="11" fill="#2a2e39" stroke="#2a2e39" stroke-width="0.2" text-anchor="middle" textLength="17.5" lengthAdjust="spacingAndGlyphs">241</text>
<rect x="1222" y="133.20000000000002" width="40" height="15.4" rx="1.5" fill="#f23645"/>
<text x="1229.2" y="145.20000000000002" font-family="'Liberation Sans', 'DejaVu Sans', sans-serif" font-size="12.5" fill="#fff" stroke="#fff" stroke-width="0.3" textLength="28.3" lengthAdjust="spacingAndGlyphs">2,410</text>
<line x1="796" y1="195.9" x2="1222" y2="195.9" stroke="#f23645" stroke-width="1.7"/>
<rect x="995.1" y="191.9" width="27.399999999999977" height="8" fill="#fff"/>
<text x="1009.55" y="198.85" font-family="'Liberation Sans', 'DejaVu Sans', sans-serif" font-size="11" fill="#2a2e39" stroke="#2a2e39" stroke-width="0.2" text-anchor="middle" textLength="17.899999999999977" lengthAdjust="spacingAndGlyphs">169</text>
<rect x="1222" y="188.3" width="40" height="15.4" rx="1.5" fill="#f23645"/>
<text x="1229.2" y="200.3" font-family="'Liberation Sans', 'DejaVu Sans', sans-serif" font-size="12.5" fill="#fff" stroke="#fff" stroke-width="0.3" textLength="28.3" lengthAdjust="spacingAndGlyphs">1,697</text>
<line x1="793.5" y1="254.5" x2="1222" y2="254.5" stroke="#4caf50" stroke-width="1.6"/>
<rect x="994.0" y="250.5" width="28.0" height="8" fill="#fff"/>
<text x="1008.75" y="257.45" font-family="'Liberation Sans', 'DejaVu Sans', sans-serif" font-size="11" fill="#2a2e39" stroke="#2a2e39" stroke-width="0.2" text-anchor="middle" textLength="18.5" lengthAdjust="spacingAndGlyphs">116</text>
<rect x="1222" y="246.9" width="40" height="15.4" rx="1.5" fill="#4caf50"/>
<text x="1229.2" y="258.9" font-family="'Liberation Sans', 'DejaVu Sans', sans-serif" font-size="12.5" fill="#fff" stroke="#fff" stroke-width="0.3" textLength="28.3" lengthAdjust="spacingAndGlyphs">1,167</text>
<line x1="796" y1="311.3" x2="1222" y2="311.3" stroke="#4caf50" stroke-width="1.6"/>
<rect x="997.5" y="307.3" width="21.5" height="8" fill="#fff"/>
<text x="1009.0" y="314.25" font-family="'Liberation Sans', 'DejaVu Sans', sans-serif" font-size="11" fill="#2a2e39" stroke="#2a2e39" stroke-width="0.2" text-anchor="middle" textLength="12" lengthAdjust="spacingAndGlyphs">81</text>
<rect x="1222" y="303.7" width="32.3" height="15.4" rx="1.5" fill="#4caf50"/>
<text x="1229.2" y="315.7" font-family="'Liberation Sans', 'DejaVu Sans', sans-serif" font-size="12.5" fill="#fff" stroke="#fff" stroke-width="0.3" textLength="18.5" lengthAdjust="spacingAndGlyphs">813</text>
<rect x="1222" y="207.3" width="40" height="15.6" rx="1.5" fill="#089981"/>
<text x="1229.2" y="219.5" font-family="'Liberation Sans', 'DejaVu Sans', sans-serif" font-size="12.5" fill="#fff" stroke="#fff" stroke-width="0.3" textLength="28.4" lengthAdjust="spacingAndGlyphs">1,507</text>
<text x="31.3" y="541.2" font-family="'Liberation Sans', 'DejaVu Sans', sans-serif" font-size="11.5" font-weight="bold" fill="#2a2e39" text-anchor="middle" textLength="25" lengthAdjust="spacingAndGlyphs">1397</text>
<text x="143.1" y="541.2" font-family="'Liberation Sans', 'DejaVu Sans', sans-serif" font-size="11.5" font-weight="bold" fill="#2a2e39" text-anchor="middle" textLength="25" lengthAdjust="spacingAndGlyphs">1398</text>
<text x="262.3" y="541.2" font-family="'Liberation Sans', 'DejaVu Sans', sans-serif" font-size="11.5" font-weight="bold" fill="#2a2e39" text-anchor="middle" textLength="25" lengthAdjust="spacingAndGlyphs">1399</text>
<text x="377.05" y="541.2" font-family="'Liberation Sans', 'DejaVu Sans', sans-serif" font-size="11.5" font-weight="bold" fill="#2a2e39" text-anchor="middle" textLength="25" lengthAdjust="spacingAndGlyphs">1400</text>
<text x="494.8" y="541.2" font-family="'Liberation Sans', 'DejaVu Sans', sans-serif" font-size="11.5" font-weight="bold" fill="#2a2e39" text-anchor="middle" textLength="25" lengthAdjust="spacingAndGlyphs">1402</text>
<text x="587.3" y="541.2" font-family="'Liberation Sans', 'DejaVu Sans', sans-serif" font-size="11.5" font-weight="bold" fill="#2a2e39" text-anchor="middle" textLength="25" lengthAdjust="spacingAndGlyphs">1402</text>
<text x="698.8" y="541.2" font-family="'Liberation Sans', 'DejaVu Sans', sans-serif" font-size="11.5" font-weight="bold" fill="#2a2e39" text-anchor="middle" textLength="25" lengthAdjust="spacingAndGlyphs">1403</text>
<text x="807.5999999999999" y="541.2" font-family="'Liberation Sans', 'DejaVu Sans', sans-serif" font-size="11.5" font-weight="bold" fill="#2a2e39" text-anchor="middle" textLength="25" lengthAdjust="spacingAndGlyphs">1404</text>
<text x="926.3" y="541.2" font-family="'Liberation Sans', 'DejaVu Sans', sans-serif" font-size="11.5" font-weight="bold" fill="#2a2e39" text-anchor="middle" textLength="25" lengthAdjust="spacingAndGlyphs">1405</text>
<text x="1045.5" y="541.2" font-family="'Liberation Sans', 'DejaVu Sans', sans-serif" font-size="11.5" font-weight="bold" fill="#2a2e39" text-anchor="middle" textLength="25" lengthAdjust="spacingAndGlyphs">1406</text>
<text x="1166.3" y="541.2" font-family="'Liberation Sans', 'DejaVu Sans', sans-serif" font-size="11.5" font-weight="bold" fill="#2a2e39" text-anchor="middle" textLength="25" lengthAdjust="spacingAndGlyphs">1407</text>
<text x="64.6" y="27.299999999999997" font-family="'Liberation Sans', 'DejaVu Sans', sans-serif" font-size="13" fill="#34373f" stroke="#34373f" stroke-width="0.3" text-anchor="middle" textLength="94.0" lengthAdjust="spacingAndGlyphs" >سخواف, فرابورس پایه</text>
<text x="124.3" y="27.299999999999997" font-family="'Liberation Sans', 'DejaVu Sans', sans-serif" font-size="13" fill="#34373f" stroke="#34373f" stroke-width="0.3" text-anchor="middle" textLength="9.4" lengthAdjust="spacingAndGlyphs" >باز</text>
<text x="143.1" y="26.9" font-family="'Liberation Sans', 'DejaVu Sans', sans-serif" font-size="11.5" fill="#22ab94" stroke="#22ab94" stroke-width="0.25" text-anchor="middle" textLength="26.6" lengthAdjust="spacingAndGlyphs" >1,464</text>
<text x="182.5" y="27.299999999999997" font-family="'Liberation Sans', 'DejaVu Sans', sans-serif" font-size="13" fill="#34373f" stroke="#34373f" stroke-width="0.3" text-anchor="middle" textLength="37.0" lengthAdjust="spacingAndGlyphs" >بیشترین</text>
<text x="214.5" y="26.9" font-family="'Liberation Sans', 'DejaVu Sans', sans-serif" font-size="11.5" fill="#22ab94" stroke="#22ab94" stroke-width="0.25" text-anchor="middle" textLength="25.0" lengthAdjust="spacingAndGlyphs" >1,507</text>
<text x="250.5" y="27.299999999999997" font-family="'Liberation Sans', 'DejaVu Sans', sans-serif" font-size="13" fill="#34373f" stroke="#34373f" stroke-width="0.3" text-anchor="middle" textLength="31.0" lengthAdjust="spacingAndGlyphs" >کمترین</text>
<text x="280.8" y="26.9" font-family="'Liberation Sans', 'DejaVu Sans', sans-serif" font-size="11.5" fill="#22ab94" stroke="#22ab94" stroke-width="0.25" text-anchor="middle" textLength="25.6" lengthAdjust="spacingAndGlyphs" >1,464</text>
<text x="314.8" y="27.299999999999997" font-family="'Liberation Sans', 'DejaVu Sans', sans-serif" font-size="13" fill="#34373f" stroke="#34373f" stroke-width="0.3" text-anchor="middle" textLength="26.4" lengthAdjust="spacingAndGlyphs" >آخرین</text>
<text x="342.0" y="26.9" font-family="'Liberation Sans', 'DejaVu Sans', sans-serif" font-size="11.5" fill="#22ab94" stroke="#22ab94" stroke-width="0.25" text-anchor="middle" textLength="26.0" lengthAdjust="spacingAndGlyphs" >1,507</text>
<text x="396.0" y="26.9" font-family="'Liberation Sans', 'DejaVu Sans', sans-serif" font-size="11.5" fill="#22ab94" stroke="#22ab94" stroke-width="0.25" text-anchor="middle" textLength="66.0" lengthAdjust="spacingAndGlyphs" >107 (+7.64%)</text>
<text x="448.0" y="27.299999999999997" font-family="'Liberation Sans', 'DejaVu Sans', sans-serif" font-size="13" fill="#34373f" stroke="#34373f" stroke-width="0.3" text-anchor="middle" textLength="22.0" lengthAdjust="spacingAndGlyphs" >حجم</text>
<text x="478.4" y="26.9" font-family="'Liberation Sans', 'DejaVu Sans', sans-serif" font-size="11.5" fill="#22ab94" stroke="#22ab94" stroke-width="0.25" text-anchor="middle" textLength="37.2" lengthAdjust="spacingAndGlyphs" >5.157M</text>
<text x="76.7" y="428.3" font-family="'Liberation Sans', 'DejaVu Sans', sans-serif" font-size="11.5" fill="#34373f" stroke="#34373f" stroke-width="0.25" text-anchor="middle" textLength="117.6" lengthAdjust="spacingAndGlyphs" >MACD (12, 26, close, 9)</text>
<text x="147.2" y="428.3" font-family="'Liberation Sans', 'DejaVu Sans', sans-serif" font-size="11.5" fill="#ffcdd2" stroke="#ffcdd2" stroke-width="0.25" text-anchor="middle" textLength="7.5" lengthAdjust="spacingAndGlyphs" >-9</text>
<text x="168.8" y="428.3" font-family="'Liberation Sans', 'DejaVu Sans', sans-serif" font-size="11.5" fill="#3b9ae6" stroke="#3b9ae6" stroke-width="0.25" text-anchor="middle" textLength="20.5" lengthAdjust="spacingAndGlyphs" >-114</text>
<text x="197.7" y="428.3" font-family="'Liberation Sans', 'DejaVu Sans', sans-serif" font-size="11.5" fill="#f0913a" stroke="#f0913a" stroke-width="0.25" text-anchor="middle" textLength="21.6" lengthAdjust="spacingAndGlyphs" >-105</text>
<clipPath id="cq"><rect x="10" y="411" width="1212" height="112"/></clipPath>
<g clip-path="url(#cq)">
<rect x="11.00" y="479.9" width="1.5" height="0.4" fill="#26a69a"/>
<rect x="13.20" y="479.9" width="1.5" height="0.4" fill="#26a69a"/>
<rect x="15.40" y="479.9" width="1.5" height="0.4" fill="#26a69a"/>
<rect x="17.60" y="479.9" width="1.5" height="0.4" fill="#26a69a"/>
<rect x="19.80" y="479.9" width="1.5" height="0.4" fill="#26a69a"/>
<rect x="22.00" y="479.9" width="1.5" height="0.4" fill="#26a69a"/>
<rect x="24.20" y="479.9" width="1.5" height="0.4" fill="#26a69a"/>
<rect x="26.40" y="479.9" width="1.5" height="0.4" fill="#26a69a"/>
<rect x="28.60" y="479.6" width="1.5" height="0.7" fill="#26a69a"/>
<rect x="30.80" y="479.2" width="1.5" height="1.1" fill="#26a69a"/>
<rect x="33.00" y="478.8" width="1.5" height="1.5" fill="#26a69a"/>
<rect x="35.20" y="477.8" width="1.5" height="2.5" fill="#26a69a"/>
<rect x="37.40" y="477.2" width="1.5" height="3.1" fill="#26a69a"/>
<rect x="39.60" y="476.8" width="1.5" height="3.5" fill="#26a69a"/>
<rect x="41.80" y="476.3" width="1.5" height="4.0" fill="#26a69a"/>
<rect x="44.00" y="477.6" width="1.5" height="2.7" fill="#b2dfdb"/>
<rect x="46.20" y="479.0" width="1.5" height="1.3" fill="#b2dfdb"/>
<rect x="48.40" y="479.6" width="1.5" height="0.7" fill="#b2dfdb"/>
<rect x="50.60" y="480.3" width="1.5" height="0.4" fill="#ff5252"/>
<rect x="52.80" y="480.3" width="1.5" height="0.8" fill="#ff5252"/>
<rect x="55.00" y="480.3" width="1.5" height="1.4" fill="#ff5252"/>
<rect x="57.20" y="480.3" width="1.5" height="1.8" fill="#ff5252"/>
<rect x="59.40" y="480.3" width="1.5" height="1.3" fill="#ffcdd2"/>
<rect x="61.60" y="480.3" width="1.5" height="1.3" fill="#ff5252"/>
<rect x="63.80" y="480.3" width="1.5" height="1.3" fill="#ffcdd2"/>
<rect x="66.00" y="480.3" width="1.5" height="1.3" fill="#ff5252"/>
<rect x="68.20" y="480.3" width="1.5" height="1.3" fill="#ff5252"/>
<rect x="70.40" y="480.3" width="1.5" height="1.3" fill="#ffcdd2"/>
<rect x="72.60" y="480.3" width="1.5" height="1.2" fill="#ffcdd2"/>
<rect x="74.80" y="480.3" width="1.5" height="1.2" fill="#ffcdd2"/>
<rect x="77.00" y="480.3" width="1.5" height="1.1" fill="#ffcdd2"/>
<rect x="79.20" y="480.3" width="1.5" height="1.0" fill="#ffcdd2"/>
<rect x="81.40" y="480.3" width="1.5" height="1.0" fill="#ffcdd2"/>
<rect x="83.60" y="480.3" width="1.5" height="0.9" fill="#ffcdd2"/>
<rect x="85.80" y="480.3" width="1.5" height="0.8" fill="#ffcdd2"/>
<rect x="88.00" y="480.3" width="1.5" height="0.8" fill="#ffcdd2"/>
<rect x="90.20" y="480.3" width="1.5" height="0.4" fill="#ffcdd2"/>
<rect x="92.40" y="479.3" width="1.5" height="1.0" fill="#26a69a"/>
<rect x="94.60" y="478.0" width="1.5" height="2.3" fill="#26a69a"/>
<rect x="96.80" y="476.9" width="1.5" height="3.4" fill="#26a69a"/>
<rect x="99.00" y="476.0" width="1.5" height="4.3" fill="#26a69a"/>
<rect x="101.20" y="475.2" width="1.5" height="5.1" fill="#26a69a"/>
<rect x="103.40" y="475.4" width="1.5" height="4.9" fill="#b2dfdb"/>
<rect x="105.60" y="476.5" width="1.5" height="3.8" fill="#b2dfdb"/>
<rect x="107.80" y="477.6" width="1.5" height="2.7" fill="#b2dfdb"/>
<rect x="110.00" y="478.3" width="1.5" height="2.0" fill="#b2dfdb"/>
<rect x="112.20" y="479.8" width="1.5" height="0.5" fill="#b2dfdb"/>
<rect x="114.40" y="480.3" width="1.5" height="0.9" fill="#ff5252"/>
<rect x="116.60" y="480.3" width="1.5" height="2.4" fill="#ff5252"/>
<rect x="118.80" y="480.3" width="1.5" height="2.9" fill="#ff5252"/>
<rect x="121.00" y="480.3" width="1.5" height="3.1" fill="#ff5252"/>
<rect x="123.20" y="480.3" width="1.5" height="3.3" fill="#ff5252"/>
<rect x="125.40" y="480.3" width="1.5" height="3.5" fill="#ff5252"/>
<rect x="127.60" y="480.3" width="1.5" height="3.5" fill="#ffcdd2"/>
<rect x="129.80" y="480.3" width="1.5" height="2.6" fill="#ffcdd2"/>
<rect x="132.00" y="480.3" width="1.5" height="1.1" fill="#ffcdd2"/>
<rect x="134.20" y="480.3" width="1.5" height="0.5" fill="#ffcdd2"/>
<rect x="136.40" y="479.9" width="1.5" height="0.4" fill="#26a69a"/>
<rect x="138.60" y="479.3" width="1.5" height="1.0" fill="#26a69a"/>
<rect x="140.80" y="478.6" width="1.5" height="1.7" fill="#26a69a"/>
<rect x="143.00" y="477.6" width="1.5" height="2.7" fill="#26a69a"/>
<rect x="145.20" y="477.0" width="1.5" height="3.3" fill="#26a69a"/>
<rect x="147.40" y="476.4" width="1.5" height="3.9" fill="#26a69a"/>
<rect x="149.60" y="475.9" width="1.5" height="4.4" fill="#26a69a"/>
<rect x="151.80" y="475.8" width="1.5" height="4.5" fill="#26a69a"/>
<rect x="154.00" y="475.7" width="1.5" height="4.6" fill="#26a69a"/>
<rect x="156.20" y="475.6" width="1.5" height="4.7" fill="#26a69a"/>
<rect x="158.40" y="475.5" width="1.5" height="4.8" fill="#26a69a"/>
<rect x="160.60" y="475.3" width="1.5" height="5.0" fill="#26a69a"/>
<rect x="162.80" y="476.1" width="1.5" height="4.2" fill="#b2dfdb"/>
<rect x="165.00" y="476.9" width="1.5" height="3.4" fill="#b2dfdb"/>
<rect x="167.20" y="477.8" width="1.5" height="2.5" fill="#b2dfdb"/>
<rect x="169.40" y="479.2" width="1.5" height="1.1" fill="#b2dfdb"/>
<rect x="171.60" y="479.9" width="1.5" height="0.4" fill="#b2dfdb"/>
<rect x="173.80" y="479.9" width="1.5" height="0.4" fill="#26a69a"/>
<rect x="176.00" y="479.8" width="1.5" height="0.5" fill="#26a69a"/>
<rect x="178.20" y="479.6" width="1.5" height="0.7" fill="#26a69a"/>
<rect x="180.40" y="479.5" width="1.5" height="0.8" fill="#26a69a"/>
<rect x="182.60" y="480.3" width="1.5" height="0.4" fill="#ff5252"/>
<rect x="184.80" y="480.3" width="1.5" height="1.2" fill="#ff5252"/>
<rect x="187.00" y="480.3" width="1.5" height="2.1" fill="#ff5252"/>
<rect x="189.20" y="480.3" width="1.5" height="2.9" fill="#ff5252"/>
<rect x="191.40" y="480.3" width="1.5" height="3.1" fill="#ff5252"/>
<rect x="193.60" y="480.3" width="1.5" height="1.2" fill="#ffcdd2"/>
<rect x="195.80" y="480.3" width="1.5" height="0.5" fill="#ffcdd2"/>
<rect x="198.00" y="480.3" width="1.5" height="0.4" fill="#ffcdd2"/>
<rect x="200.20" y="476.2" width="1.5" height="4.1" fill="#26a69a"/>
<rect x="202.40" y="473.6" width="1.5" height="6.7" fill="#26a69a"/>
<rect x="204.60" y="471.6" width="1.5" height="8.7" fill="#26a69a"/>
<rect x="206.80" y="466.1" width="1.5" height="14.2" fill="#26a69a"/>
<rect x="209.00" y="461.8" width="1.5" height="18.5" fill="#26a69a"/>
<rect x="211.20" y="460.0" width="1.5" height="20.3" fill="#26a69a"/>
<rect x="213.40" y="458.9" width="1.5" height="21.4" fill="#26a69a"/>
<rect x="215.60" y="459.8" width="1.5" height="20.5" fill="#b2dfdb"/>
<rect x="217.80" y="461.9" width="1.5" height="18.4" fill="#b2dfdb"/>
<rect x="220.00" y="465.1" width="1.5" height="15.2" fill="#b2dfdb"/>
<rect x="222.20" y="468.1" width="1.5" height="12.2" fill="#b2dfdb"/>
<rect x="224.40" y="470.6" width="1.5" height="9.7" fill="#b2dfdb"/>
<rect x="226.60" y="474.9" width="1.5" height="5.4" fill="#b2dfdb"/>
<rect x="228.80" y="477.5" width="1.5" height="2.8" fill="#b2dfdb"/>
<rect x="231.00" y="480.3" width="1.5" height="1.7" fill="#ff5252"/>
<rect x="233.20" y="480.3" width="1.5" height="4.2" fill="#ff5252"/>
<rect x="235.40" y="480.3" width="1.5" height="5.4" fill="#ff5252"/>
<rect x="237.60" y="480.3" width="1.5" height="6.6" fill="#ff5252"/>
<rect x="239.80" y="480.3" width="1.5" height="7.6" fill="#ff5252"/>
<rect x="242.00" y="480.3" width="1.5" height="8.3" fill="#ff5252"/>
<rect x="244.20" y="480.3" width="1.5" height="8.9" fill="#ff5252"/>
<rect x="246.40" y="480.3" width="1.5" height="9.5" fill="#ff5252"/>
<rect x="248.60" y="480.3" width="1.5" height="10.1" fill="#ff5252"/>
<rect x="250.80" y="480.3" width="1.5" height="10.7" fill="#ff5252"/>
<rect x="253.00" y="480.3" width="1.5" height="11.3" fill="#ff5252"/>
<rect x="255.20" y="480.3" width="1.5" height="11.0" fill="#ffcdd2"/>
<rect x="257.40" y="480.3" width="1.5" height="10.0" fill="#ffcdd2"/>
<rect x="259.60" y="480.3" width="1.5" height="5.3" fill="#ffcdd2"/>
<rect x="261.80" y="478.5" width="1.5" height="1.8" fill="#26a69a"/>
<rect x="264.00" y="475.0" width="1.5" height="5.3" fill="#26a69a"/>
<rect x="266.20" y="473.5" width="1.5" height="6.8" fill="#26a69a"/>
<rect x="268.40" y="473.6" width="1.5" height="6.7" fill="#b2dfdb"/>
<rect x="270.60" y="475.6" width="1.5" height="4.7" fill="#b2dfdb"/>
<rect x="272.80" y="478.6" width="1.5" height="1.7" fill="#b2dfdb"/>
<rect x="275.00" y="480.3" width="1.5" height="3.6" fill="#ff5252"/>
<rect x="277.20" y="480.3" width="1.5" height="5.8" fill="#ff5252"/>
<rect x="279.40" y="480.3" width="1.5" height="8.0" fill="#ff5252"/>
<rect x="281.60" y="480.3" width="1.5" height="8.8" fill="#ff5252"/>
<rect x="283.80" y="480.3" width="1.5" height="8.9" fill="#ff5252"/>
<rect x="286.00" y="480.3" width="1.5" height="8.9" fill="#ff5252"/>
<rect x="288.20" y="480.3" width="1.5" height="8.6" fill="#ffcdd2"/>
<rect x="290.40" y="480.3" width="1.5" height="7.7" fill="#ffcdd2"/>
<rect x="292.60" y="480.3" width="1.5" height="7.1" fill="#ffcdd2"/>
<rect x="294.80" y="480.3" width="1.5" height="6.9" fill="#ffcdd2"/>
<rect x="297.00" y="480.3" width="1.5" height="6.4" fill="#ffcdd2"/>
<rect x="299.20" y="480.3" width="1.5" height="5.7" fill="#ffcdd2"/>
<rect x="301.40" y="480.3" width="1.5" height="5.0" fill="#ffcdd2"/>
<rect x="303.60" y="480.3" width="1.5" height="4.8" fill="#ffcdd2"/>
<rect x="305.80" y="480.3" width="1.5" height="4.6" fill="#ffcdd2"/>
<rect x="308.00" y="480.3" width="1.5" height="4.1" fill="#ffcdd2"/>
<rect x="310.20" y="480.3" width="1.5" height="3.6" fill="#ffcdd2"/>
<rect x="312.40" y="480.3" width="1.5" height="3.2" fill="#ffcdd2"/>
<rect x="314.60" y="480.3" width="1.5" height="3.2" fill="#ff5252"/>
<rect x="316.80" y="480.3" width="1.5" height="3.1" fill="#ffcdd2"/>
<rect x="319.00" y="480.3" width="1.5" height="3.0" fill="#ffcdd2"/>
<rect x="321.20" y="480.3" width="1.5" height="2.8" fill="#ffcdd2"/>
<rect x="323.40" y="480.3" width="1.5" height="2.8" fill="#ffcdd2"/>
<rect x="325.60" y="480.3" width="1.5" height="2.9" fill="#ff5252"/>
<rect x="327.80" y="480.3" width="1.5" height="3.0" fill="#ff5252"/>
<rect x="330.00" y="480.3" width="1.5" height="3.9" fill="#ff5252"/>
<rect x="332.20" y="480.3" width="1.5" height="4.2" fill="#ff5252"/>
<rect x="334.40" y="480.3" width="1.5" height="4.5" fill="#ff5252"/>
<rect x="336.60" y="480.3" width="1.5" height="6.9" fill="#ff5252"/>
<rect x="338.80" y="480.3" width="1.5" height="9.0" fill="#ff5252"/>
<rect x="341.00" y="480.3" width="1.5" height="10.0" fill="#ff5252"/>
<rect x="343.20" y="480.3" width="1.5" height="10.2" fill="#ff5252"/>
<rect x="345.40" y="480.3" width="1.5" height="10.4" fill="#ff5252"/>
<rect x="347.60" y="480.3" width="1.5" height="10.4" fill="#ff5252"/>
<rect x="349.80" y="480.3" width="1.5" height="9.5" fill="#ffcdd2"/>
<rect x="352.00" y="480.3" width="1.5" height="8.1" fill="#ffcdd2"/>
<rect x="354.20" y="480.3" width="1.5" height="7.2" fill="#ffcdd2"/>
<rect x="356.40" y="480.3" width="1.5" height="7.1" fill="#ffcdd2"/>
<rect x="358.60" y="480.3" width="1.5" height="7.2" fill="#ff5252"/>
<rect x="360.80" y="480.3" width="1.5" height="7.3" fill="#ff5252"/>
<rect x="363.00" y="480.3" width="1.5" height="6.8" fill="#ffcdd2"/>
<rect x="365.20" y="480.3" width="1.5" height="6.4" fill="#ffcdd2"/>
<rect x="367.40" y="480.3" width="1.5" height="5.6" fill="#ffcdd2"/>
<rect x="369.60" y="480.3" width="1.5" height="4.3" fill="#ffcdd2"/>
<rect x="371.80" y="480.3" width="1.5" height="3.3" fill="#ffcdd2"/>
<rect x="374.00" y="480.3" width="1.5" height="2.0" fill="#ffcdd2"/>
<rect x="376.20" y="479.9" width="1.5" height="0.4" fill="#26a69a"/>
<rect x="378.40" y="478.0" width="1.5" height="2.3" fill="#26a69a"/>
<rect x="380.60" y="476.5" width="1.5" height="3.8" fill="#26a69a"/>
<rect x="382.80" y="476.2" width="1.5" height="4.1" fill="#26a69a"/>
<rect x="385.00" y="474.6" width="1.5" height="5.7" fill="#26a69a"/>
<rect x="387.20" y="472.9" width="1.5" height="7.4" fill="#26a69a"/>
<rect x="389.40" y="471.4" width="1.5" height="8.9" fill="#26a69a"/>
<rect x="391.60" y="471.0" width="1.5" height="9.3" fill="#26a69a"/>
<rect x="393.80" y="470.5" width="1.5" height="9.8" fill="#26a69a"/>
<rect x="396.00" y="470.8" width="1.5" height="9.5" fill="#b2dfdb"/>
<rect x="398.20" y="472.1" width="1.5" height="8.2" fill="#b2dfdb"/>
<rect x="400.40" y="472.9" width="1.5" height="7.4" fill="#b2dfdb"/>
<rect x="402.60" y="473.8" width="1.5" height="6.5" fill="#b2dfdb"/>
<rect x="404.80" y="474.5" width="1.5" height="5.8" fill="#b2dfdb"/>
<rect x="407.00" y="474.8" width="1.5" height="5.5" fill="#b2dfdb"/>
<rect x="409.20" y="475.0" width="1.5" height="5.3" fill="#b2dfdb"/>
<rect x="411.40" y="475.1" width="1.5" height="5.2" fill="#b2dfdb"/>
<rect x="413.60" y="475.2" width="1.5" height="5.1" fill="#b2dfdb"/>
<rect x="415.80" y="475.3" width="1.5" height="5.0" fill="#b2dfdb"/>
<rect x="418.00" y="475.3" width="1.5" height="5.0" fill="#b2dfdb"/>
<rect x="420.20" y="475.5" width="1.5" height="4.8" fill="#b2dfdb"/>
<rect x="422.40" y="475.9" width="1.5" height="4.4" fill="#b2dfdb"/>
<rect x="424.60" y="476.1" width="1.5" height="4.2" fill="#b2dfdb"/>
<rect x="426.80" y="476.3" width="1.5" height="4.0" fill="#b2dfdb"/>
<rect x="429.00" y="476.6" width="1.5" height="3.7" fill="#b2dfdb"/>
<rect x="431.20" y="478.8" width="1.5" height="1.5" fill="#b2dfdb"/>
<rect x="433.40" y="480.3" width="1.5" height="0.4" fill="#ff5252"/>
<rect x="435.60" y="480.3" width="1.5" height="1.2" fill="#ff5252"/>
<rect x="437.80" y="480.3" width="1.5" height="2.4" fill="#ff5252"/>
<rect x="440.00" y="480.3" width="1.5" height="2.8" fill="#ff5252"/>
<rect x="442.20" y="480.3" width="1.5" height="3.1" fill="#ff5252"/>
<rect x="444.40" y="480.3" width="1.5" height="3.3" fill="#ff5252"/>
<rect x="446.60" y="480.3" width="1.5" height="3.4" fill="#ff5252"/>
<rect x="448.80" y="480.3" width="1.5" height="3.4" fill="#ffcdd2"/>
<rect x="451.00" y="480.3" width="1.5" height="3.1" fill="#ffcdd2"/>
<rect x="453.20" y="480.3" width="1.5" height="2.6" fill="#ffcdd2"/>
<rect x="455.40" y="480.3" width="1.5" height="2.2" fill="#ffcdd2"/>
<rect x="457.60" y="480.3" width="1.5" height="1.9" fill="#ffcdd2"/>
<rect x="459.80" y="480.3" width="1.5" height="1.6" fill="#ffcdd2"/>
<rect x="462.00" y="480.3" width="1.5" height="1.3" fill="#ffcdd2"/>
<rect x="464.20" y="480.3" width="1.5" height="1.6" fill="#ff5252"/>
<rect x="466.40" y="480.3" width="1.5" height="2.0" fill="#ff5252"/>
<rect x="468.60" y="480.3" width="1.5" height="2.4" fill="#ff5252"/>
<rect x="470.80" y="480.3" width="1.5" height="2.9" fill="#ff5252"/>
<rect x="473.00" y="480.3" width="1.5" height="3.1" fill="#ff5252"/>
<rect x="475.20" y="480.3" width="1.5" height="3.0" fill="#ffcdd2"/>
<rect x="477.40" y="480.3" width="1.5" height="1.4" fill="#ffcdd2"/>
<rect x="479.60" y="479.9" width="1.5" height="0.4" fill="#26a69a"/>
<rect x="481.80" y="479.1" width="1.5" height="1.2" fill="#26a69a"/>
<rect x="484.00" y="478.9" width="1.5" height="1.4" fill="#26a69a"/>
<rect x="486.20" y="477.4" width="1.5" height="2.9" fill="#26a69a"/>
<rect x="488.40" y="476.2" width="1.5" height="4.1" fill="#26a69a"/>
<rect x="490.60" y="475.0" width="1.5" height="5.3" fill="#26a69a"/>
<rect x="492.80" y="474.5" width="1.5" height="5.8" fill="#26a69a"/>
<rect x="495.00" y="474.0" width="1.5" height="6.3" fill="#26a69a"/>
<rect x="497.20" y="473.6" width="1.5" height="6.7" fill="#26a69a"/>
<rect x="499.40" y="473.1" width="1.5" height="7.2" fill="#26a69a"/>
<rect x="501.60" y="472.8" width="1.5" height="7.5" fill="#26a69a"/>
<rect x="503.80" y="472.8" width="1.5" height="7.5" fill="#26a69a"/>
<rect x="506.00" y="472.1" width="1.5" height="8.2" fill="#26a69a"/>
<rect x="508.20" y="470.7" width="1.5" height="9.6" fill="#26a69a"/>
<rect x="510.40" y="469.4" width="1.5" height="10.9" fill="#26a69a"/>
<rect x="512.60" y="468.5" width="1.5" height="11.8" fill="#26a69a"/>
<rect x="514.80" y="467.7" width="1.5" height="12.6" fill="#26a69a"/>
<rect x="517.00" y="466.7" width="1.5" height="13.6" fill="#26a69a"/>
<rect x="519.20" y="465.8" width="1.5" height="14.5" fill="#26a69a"/>
<rect x="521.40" y="465.1" width="1.5" height="15.2" fill="#26a69a"/>
<rect x="523.60" y="466.5" width="1.5" height="13.8" fill="#b2dfdb"/>
<rect x="525.80" y="467.9" width="1.5" height="12.4" fill="#b2dfdb"/>
<rect x="528.00" y="469.3" width="1.5" height="11.0" fill="#b2dfdb"/>
<rect x="530.20" y="470.5" width="1.5" height="9.8" fill="#b2dfdb"/>
<rect x="532.40" y="470.7" width="1.5" height="9.6" fill="#b2dfdb"/>
<rect x="534.60" y="470.5" width="1.5" height="9.8" fill="#26a69a"/>
<rect x="536.80" y="470.3" width="1.5" height="10.0" fill="#26a69a"/>
<rect x="539.00" y="471.7" width="1.5" height="8.6" fill="#b2dfdb"/>
<rect x="541.20" y="473.9" width="1.5" height="6.4" fill="#b2dfdb"/>
<rect x="543.40" y="475.3" width="1.5" height="5.0" fill="#b2dfdb"/>
<rect x="545.60" y="475.6" width="1.5" height="4.7" fill="#b2dfdb"/>
<rect x="547.80" y="475.7" width="1.5" height="4.6" fill="#b2dfdb"/>
<rect x="550.00" y="476.1" width="1.5" height="4.2" fill="#b2dfdb"/>
<rect x="552.20" y="477.9" width="1.5" height="2.4" fill="#b2dfdb"/>
<rect x="554.40" y="479.1" width="1.5" height="1.2" fill="#b2dfdb"/>
<rect x="556.60" y="480.3" width="1.5" height="1.3" fill="#ff5252"/>
<rect x="558.80" y="480.3" width="1.5" height="4.6" fill="#ff5252"/>
<rect x="561.00" y="480.3" width="1.5" height="6.8" fill="#ff5252"/>
<rect x="563.20" y="480.3" width="1.5" height="7.4" fill="#ff5252"/>
<rect x="565.40" y="480.3" width="1.5" height="7.2" fill="#ffcdd2"/>
<rect x="567.60" y="480.3" width="1.5" height="7.1" fill="#ffcdd2"/>
<rect x="569.80" y="480.3" width="1.5" height="5.4" fill="#ffcdd2"/>
<rect x="572.00" y="480.3" width="1.5" height="3.4" fill="#ffcdd2"/>
<rect x="574.20" y="480.3" width="1.5" height="0.4" fill="#ffcdd2"/>
<rect x="576.40" y="478.0" width="1.5" height="2.3" fill="#26a69a"/>
<rect x="578.60" y="476.8" width="1.5" height="3.5" fill="#26a69a"/>
<rect x="580.80" y="478.6" width="1.5" height="1.7" fill="#b2dfdb"/>
<rect x="583.00" y="480.3" width="1.5" height="0.6" fill="#ff5252"/>
<rect x="585.20" y="480.3" width="1.5" height="3.3" fill="#ff5252"/>
<rect x="587.40" y="480.3" width="1.5" height="5.6" fill="#ff5252"/>
<rect x="589.60" y="480.3" width="1.5" height="8.0" fill="#ff5252"/>
<rect x="591.80" y="480.3" width="1.5" height="10.3" fill="#ff5252"/>
<rect x="594.00" y="480.3" width="1.5" height="10.9" fill="#ff5252"/>
<rect x="596.20" y="480.3" width="1.5" height="10.8" fill="#ffcdd2"/>
<rect x="598.40" y="480.3" width="1.5" height="10.7" fill="#ffcdd2"/>
<rect x="600.60" y="480.3" width="1.5" height="10.7" fill="#ff5252"/>
<rect x="602.80" y="480.3" width="1.5" height="12.0" fill="#ff5252"/>
<rect x="605.00" y="480.3" width="1.5" height="13.8" fill="#ff5252"/>
<rect x="607.20" y="480.3" width="1.5" height="14.5" fill="#ff5252"/>
<rect x="609.40" y="480.3" width="1.5" height="12.7" fill="#ffcdd2"/>
<rect x="611.60" y="480.3" width="1.5" height="11.0" fill="#ffcdd2"/>
<rect x="613.80" y="480.3" width="1.5" height="9.7" fill="#ffcdd2"/>
<rect x="616.00" y="480.3" width="1.5" height="9.0" fill="#ffcdd2"/>
<rect x="618.20" y="480.3" width="1.5" height="8.2" fill="#ffcdd2"/>
<rect x="620.40" y="480.3" width="1.5" height="7.4" fill="#ffcdd2"/>
<rect x="622.60" y="480.3" width="1.5" height="6.6" fill="#ffcdd2"/>
<rect x="624.80" y="480.3" width="1.5" height="6.4" fill="#ffcdd2"/>
<rect x="627.00" y="480.3" width="1.5" height="6.3" fill="#ffcdd2"/>
<rect x="629.20" y="480.3" width="1.5" height="6.1" fill="#ffcdd2"/>
<rect x="631.40" y="480.3" width="1.5" height="5.8" fill="#ffcdd2"/>
<rect x="633.60" y="480.3" width="1.5" height="4.8" fill="#ffcdd2"/>
<rect x="635.80" y="480.3" width="1.5" height="4.1" fill="#ffcdd2"/>
<rect x="638.00" y="480.3" width="1.5" height="3.5" fill="#ffcdd2"/>
<rect x="640.20" y="480.3" width="1.5" height="2.3" fill="#ffcdd2"/>
<rect x="642.40" y="480.3" width="1.5" height="0.4" fill="#ffcdd2"/>
<rect x="644.60" y="479.5" width="1.5" height="0.8" fill="#26a69a"/>
<rect x="646.80" y="479.3" width="1.5" height="1.0" fill="#26a69a"/>
<rect x="649.00" y="479.1" width="1.5" height="1.2" fill="#26a69a"/>
<rect x="651.20" y="478.7" width="1.5" height="1.6" fill="#26a69a"/>
<rect x="653.40" y="478.1" width="1.5" height="2.2" fill="#26a69a"/>
<rect x="655.60" y="477.6" width="1.5" height="2.7" fill="#26a69a"/>
<rect x="657.80" y="478.3" width="1.5" height="2.0" fill="#b2dfdb"/>
<rect x="660.00" y="478.9" width="1.5" height="1.4" fill="#b2dfdb"/>
<rect x="662.20" y="479.2" width="1.5" height="1.1" fill="#b2dfdb"/>
<rect x="664.40" y="479.5" width="1.5" height="0.8" fill="#b2dfdb"/>
<rect x="666.60" y="479.8" width="1.5" height="0.5" fill="#b2dfdb"/>
<rect x="668.80" y="479.9" width="1.5" height="0.4" fill="#b2dfdb"/>
<rect x="671.00" y="479.9" width="1.5" height="0.4" fill="#b2dfdb"/>
<rect x="673.20" y="479.9" width="1.5" height="0.4" fill="#b2dfdb"/>
<rect x="675.40" y="479.9" width="1.5" height="0.4" fill="#b2dfdb"/>
<rect x="677.60" y="479.9" width="1.5" height="0.4" fill="#b2dfdb"/>
<rect x="679.80" y="478.2" width="1.5" height="2.1" fill="#26a69a"/>
<rect x="682.00" y="477.1" width="1.5" height="3.2" fill="#26a69a"/>
<rect x="684.20" y="476.3" width="1.5" height="4.0" fill="#26a69a"/>
<rect x="686.40" y="475.8" width="1.5" height="4.5" fill="#26a69a"/>
<rect x="688.60" y="476.2" width="1.5" height="4.1" fill="#b2dfdb"/>
<rect x="690.80" y="476.6" width="1.5" height="3.7" fill="#b2dfdb"/>
<rect x="693.00" y="477.1" width="1.5" height="3.2" fill="#b2dfdb"/>
<rect x="695.20" y="476.6" width="1.5" height="3.7" fill="#26a69a"/>
<rect x="697.40" y="475.2" width="1.5" height="5.1" fill="#26a69a"/>
<rect x="699.60" y="474.1" width="1.5" height="6.2" fill="#26a69a"/>
<rect x="701.80" y="473.9" width="1.5" height="6.4" fill="#26a69a"/>
<rect x="704.00" y="474.0" width="1.5" height="6.3" fill="#b2dfdb"/>
<rect x="706.20" y="474.1" width="1.5" height="6.2" fill="#b2dfdb"/>
<rect x="708.40" y="474.8" width="1.5" height="5.5" fill="#b2dfdb"/>
<rect x="710.60" y="475.6" width="1.5" height="4.7" fill="#b2dfdb"/>
<rect x="712.80" y="476.6" width="1.5" height="3.7" fill="#b2dfdb"/>
<rect x="715.00" y="478.7" width="1.5" height="1.6" fill="#b2dfdb"/>
<rect x="717.20" y="479.9" width="1.5" height="0.4" fill="#b2dfdb"/>
<rect x="719.40" y="480.3" width="1.5" height="1.5" fill="#ff5252"/>
<rect x="721.60" y="480.3" width="1.5" height="3.3" fill="#ff5252"/>
<rect x="723.80" y="480.3" width="1.5" height="4.3" fill="#ff5252"/>
<rect x="726.00" y="480.3" width="1.5" height="4.5" fill="#ff5252"/>
<rect x="728.20" y="480.3" width="1.5" height="4.2" fill="#ffcdd2"/>
<rect x="730.40" y="480.3" width="1.5" height="4.2" fill="#ffcdd2"/>
<rect x="732.60" y="480.3" width="1.5" height="2.9" fill="#ffcdd2"/>
<rect x="734.80" y="480.3" width="1.5" height="0.5" fill="#ffcdd2"/>
<rect x="737.00" y="479.9" width="1.5" height="0.4" fill="#26a69a"/>
<rect x="739.20" y="479.0" width="1.5" height="1.3" fill="#26a69a"/>
<rect x="741.40" y="477.9" width="1.5" height="2.4" fill="#26a69a"/>
<rect x="743.60" y="477.4" width="1.5" height="2.9" fill="#26a69a"/>
<rect x="745.80" y="478.1" width="1.5" height="2.2" fill="#b2dfdb"/>
<rect x="748.00" y="478.8" width="1.5" height="1.5" fill="#b2dfdb"/>
<rect x="750.20" y="479.9" width="1.5" height="0.4" fill="#b2dfdb"/>
<rect x="752.40" y="480.3" width="1.5" height="0.5" fill="#ff5252"/>
<rect x="754.60" y="480.3" width="1.5" height="1.2" fill="#ff5252"/>
<rect x="756.80" y="480.3" width="1.5" height="1.8" fill="#ff5252"/>
<rect x="759.00" y="480.3" width="1.5" height="2.2" fill="#ff5252"/>
<rect x="761.20" y="480.3" width="1.5" height="2.5" fill="#ff5252"/>
<rect x="763.40" y="480.3" width="1.5" height="3.0" fill="#ff5252"/>
<rect x="765.60" y="480.3" width="1.5" height="3.2" fill="#ff5252"/>
<rect x="767.80" y="480.3" width="1.5" height="3.0" fill="#ffcdd2"/>
<rect x="770.00" y="480.3" width="1.5" height="2.7" fill="#ffcdd2"/>
<rect x="772.20" y="480.3" width="1.5" height="2.5" fill="#ffcdd2"/>
<rect x="774.40" y="480.3" width="1.5" height="2.2" fill="#ffcdd2"/>
<rect x="776.60" y="480.3" width="1.5" height="1.6" fill="#ffcdd2"/>
<rect x="778.80" y="480.3" width="1.5" height="0.9" fill="#ffcdd2"/>
<path d="M10.0,476.0C12.7,476.0 22.0,476.5 26.0,476.2C30.0,475.9 31.2,475.0 34.0,474.0C36.8,473.0 39.8,470.6 42.5,470.4C45.2,470.1 47.5,471.7 50.0,472.5C52.5,473.3 54.2,474.5 57.5,475.0C60.8,475.5 64.6,475.3 70.0,475.5C75.4,475.7 85.7,476.4 90.0,476.0C94.3,475.6 93.8,474.2 96.0,473.0C98.2,471.8 100.7,469.1 103.0,468.5C105.3,467.9 107.5,468.6 110.0,469.5C112.5,470.4 115.1,472.6 118.0,474.0C120.9,475.4 124.7,477.3 127.5,477.8C130.3,478.2 132.6,477.2 135.0,476.5C137.4,475.8 139.5,474.5 142.0,473.5C144.5,472.5 146.8,471.7 150.0,470.4C153.2,469.1 157.5,466.0 161.2,465.5C164.9,465.0 169.0,467.1 172.4,467.3C175.8,467.5 178.3,466.0 181.5,466.5C184.7,467.0 188.8,470.2 191.7,470.4C194.6,470.6 196.6,469.8 198.8,467.9C201.0,466.0 202.9,463.7 204.9,458.8C206.9,453.9 209.3,443.8 211.0,438.5C212.7,433.2 213.5,429.9 215.0,427.3C216.5,424.7 218.4,423.0 220.1,422.6C221.8,422.2 223.3,423.4 225.2,425.2C227.1,427.0 228.9,430.3 231.3,433.4C233.7,436.4 236.7,440.3 239.4,443.5C242.1,446.7 245.1,449.8 247.6,452.7C250.1,455.6 252.8,459.2 254.7,460.8C256.6,462.4 257.5,463.2 258.7,462.4C259.9,461.5 260.6,458.0 261.8,455.7C263.0,453.4 264.7,450.0 265.9,448.6C267.1,447.2 267.7,447.2 268.9,447.6C270.1,448.0 271.1,448.3 273.0,450.7C274.9,453.1 277.6,458.6 280.1,461.8C282.6,465.0 285.5,467.8 288.2,470.0C290.9,472.2 293.2,473.5 296.3,475.0C299.4,476.5 303.1,478.0 306.5,479.1C309.9,480.2 313.0,480.8 316.7,481.5C320.4,482.2 325.8,482.7 328.9,483.6C331.9,484.6 333.0,485.1 335.0,487.2C337.0,489.3 338.7,493.3 341.1,496.4C343.5,499.4 346.8,503.5 349.2,505.5C351.6,507.5 353.3,507.2 355.3,508.6C357.3,510.0 359.4,512.6 361.4,513.7C363.4,514.8 365.1,515.4 367.5,515.3C369.9,515.2 372.9,514.6 375.6,513.3C378.3,512.0 381.3,509.9 383.7,507.6C386.1,505.3 387.8,501.8 389.8,499.4C391.8,496.9 393.2,494.3 395.9,492.9C398.6,491.5 401.9,492.0 406.0,490.9C410.1,489.8 416.4,487.2 420.3,486.2C424.2,485.2 426.4,484.4 429.5,484.8C432.6,485.2 435.4,487.8 438.6,488.9C441.8,490.0 444.7,491.1 448.8,491.7C452.9,492.3 458.6,491.8 463.0,492.3C467.4,492.8 471.5,495.0 475.2,494.8C478.9,494.6 482.0,493.2 485.4,491.3C488.8,489.4 492.1,485.9 495.5,483.2C498.9,480.5 502.6,478.2 505.7,475.0C508.8,471.8 511.1,467.8 513.8,463.9C516.5,460.0 519.3,454.4 522.0,451.7C524.7,449.0 527.4,449.4 530.1,447.6C532.8,445.8 535.8,441.8 538.2,440.9C540.6,440.0 542.3,442.2 544.3,442.1C546.3,442.0 548.4,440.3 550.4,440.5C552.4,440.7 554.5,441.6 556.5,443.5C558.5,445.4 560.6,449.8 562.6,451.7C564.6,453.6 566.7,455.3 568.7,455.1C570.7,454.9 573.1,451.8 574.8,450.7C576.5,449.6 577.2,448.3 578.9,448.6C580.6,448.9 582.6,449.6 585.0,452.7C587.4,455.8 590.4,462.8 593.1,466.9C595.8,471.0 598.8,473.5 601.2,477.1C603.6,480.7 604.9,485.9 607.3,488.3C609.7,490.7 612.7,490.3 615.4,491.3C618.1,492.3 620.9,493.2 623.6,494.3C626.3,495.4 629.0,497.2 631.7,497.8C634.4,498.4 637.1,498.2 639.8,497.8C642.5,497.4 645.4,496.2 648.1,495.4C650.9,494.6 653.2,493.3 656.3,492.9C659.3,492.5 662.7,493.0 666.4,492.9C670.1,492.8 675.2,493.2 678.6,492.3C682.0,491.4 684.0,488.5 686.7,487.6C689.4,486.7 692.5,487.9 694.9,486.8C697.3,485.7 699.0,482.6 701.0,481.1C703.0,479.7 705.1,478.6 707.1,478.1C709.1,477.6 711.2,477.6 713.2,478.1C715.2,478.6 717.3,479.9 719.3,481.1C721.3,482.4 723.4,484.7 725.4,485.6C727.4,486.6 729.5,487.0 731.5,486.8C733.5,486.6 735.6,485.1 737.6,484.2C739.6,483.2 741.7,481.3 743.7,481.1C745.7,480.9 747.4,482.0 749.8,482.8C752.2,483.6 755.2,485.2 757.9,486.2C760.6,487.2 763.3,488.3 766.0,488.9C768.7,489.5 771.7,489.8 774.1,489.9C776.5,490.0 779.2,489.7 780.2,489.7" fill="none" stroke="#3b9ae6" stroke-width="1.15"/>
<path d="M10.0,476.0C12.7,476.0 21.7,476.4 26.0,476.2C30.3,475.9 32.7,475.2 36.0,474.5C39.3,473.8 43.3,472.4 46.0,472.2C48.7,471.9 49.7,472.6 52.0,473.0C54.3,473.4 56.2,474.1 60.0,474.4C63.8,474.7 70.0,474.8 75.0,475.0C80.0,475.2 86.2,475.8 90.0,475.6C93.8,475.4 94.8,474.8 98.0,474.0C101.2,473.2 105.7,470.9 109.0,470.6C112.3,470.4 115.2,471.8 118.0,472.5C120.8,473.2 123.3,474.3 126.0,475.0C128.7,475.7 131.3,476.6 134.0,476.5C136.7,476.4 139.3,475.0 142.0,474.5C144.7,474.0 147.0,474.3 150.0,473.4C153.0,472.5 156.8,470.3 160.2,469.3C163.6,468.3 166.6,467.9 170.3,467.5C174.0,467.1 178.4,466.7 182.5,466.9C186.6,467.1 191.3,468.9 194.7,468.9C198.1,468.9 200.4,468.2 202.8,466.9C205.2,465.5 206.9,464.2 208.9,460.8C210.9,457.4 213.0,450.8 215.0,446.6C217.0,442.4 219.1,437.8 221.1,435.4C223.1,433.0 225.2,432.3 227.2,432.0C229.2,431.7 230.9,432.1 233.3,433.4C235.7,434.6 238.8,437.3 241.5,439.5C244.2,441.7 246.9,444.2 249.6,446.6C252.3,449.0 255.7,452.2 257.7,453.7C259.7,455.2 260.1,455.8 261.8,455.7C263.5,455.6 265.7,453.7 267.9,453.1C270.1,452.5 272.6,451.7 275.0,452.3C277.4,452.9 279.2,454.3 282.1,456.7C285.0,459.1 288.9,464.0 292.3,466.9C295.7,469.8 299.0,472.0 302.4,474.0C305.8,476.0 309.2,477.5 312.6,478.7C316.0,479.9 319.8,480.5 322.8,481.1C325.9,481.7 328.2,481.4 330.9,482.2C333.6,483.0 336.6,484.5 339.0,486.2C341.4,487.9 342.7,489.8 345.1,492.3C347.5,494.9 350.6,498.9 353.3,501.5C356.0,504.1 358.7,506.3 361.4,508.0C364.1,509.7 367.1,510.8 369.5,511.6C371.9,512.4 373.6,512.6 375.6,512.6C377.6,512.6 379.3,512.6 381.7,511.6C384.1,510.6 387.1,508.5 389.8,506.5C392.5,504.5 395.6,501.1 398.0,499.4C400.4,497.6 402.0,497.0 404.0,496.0C406.0,495.0 407.1,494.5 410.2,493.3C413.3,492.1 418.7,490.0 422.4,488.9C426.1,487.8 429.1,486.7 432.5,486.6C435.9,486.5 439.0,487.6 442.7,488.3C446.4,489.0 450.5,490.0 454.9,490.7C459.3,491.4 464.7,491.9 469.1,492.3C473.5,492.7 477.6,493.6 481.3,493.3C485.0,493.0 488.1,491.8 491.5,490.3C494.9,488.8 498.2,486.6 501.6,484.2C505.0,481.8 508.4,479.3 511.8,476.1C515.2,472.9 518.6,468.6 522.0,464.9C525.4,461.2 528.7,456.8 532.1,453.7C535.5,450.6 538.9,448.0 542.3,446.2C545.7,444.4 549.3,443.2 552.4,442.9C555.5,442.6 557.9,443.5 560.6,444.6C563.3,445.7 566.0,448.6 568.7,449.6C571.4,450.6 574.1,450.4 576.8,450.7C579.5,451.0 582.3,450.5 585.0,451.7C587.7,452.9 590.1,454.6 593.1,457.8C596.1,461.0 599.9,466.9 603.3,471.0C606.7,475.1 610.0,479.1 613.4,482.2C616.8,485.2 620.2,487.3 623.6,489.3C627.0,491.3 630.3,493.0 633.7,494.3C637.1,495.6 641.1,496.8 643.9,497.0C646.6,497.2 647.5,495.9 650.2,495.4C652.9,494.8 656.9,494.1 660.3,493.7C663.7,493.3 667.1,493.1 670.5,492.9C673.9,492.7 677.3,492.8 680.7,492.3C684.1,491.8 687.8,490.6 690.8,489.7C693.8,488.8 696.2,488.3 698.9,487.2C701.6,486.1 704.4,484.0 707.1,482.8C709.8,481.6 712.8,480.4 715.2,480.1C717.6,479.8 718.9,480.5 721.3,481.1C723.7,481.7 727.0,483.0 729.4,483.6C731.8,484.2 733.1,484.9 735.5,484.8C737.9,484.7 741.0,483.0 743.7,482.8C746.4,482.6 748.8,483.0 751.8,483.6C754.8,484.2 758.6,485.4 762.0,486.2C765.4,487.0 769.1,487.8 772.1,488.3C775.1,488.8 778.9,489.1 780.2,489.3" fill="none" stroke="#f0913a" stroke-width="1.15"/>
</g>
</svg>
</body>
</html>
